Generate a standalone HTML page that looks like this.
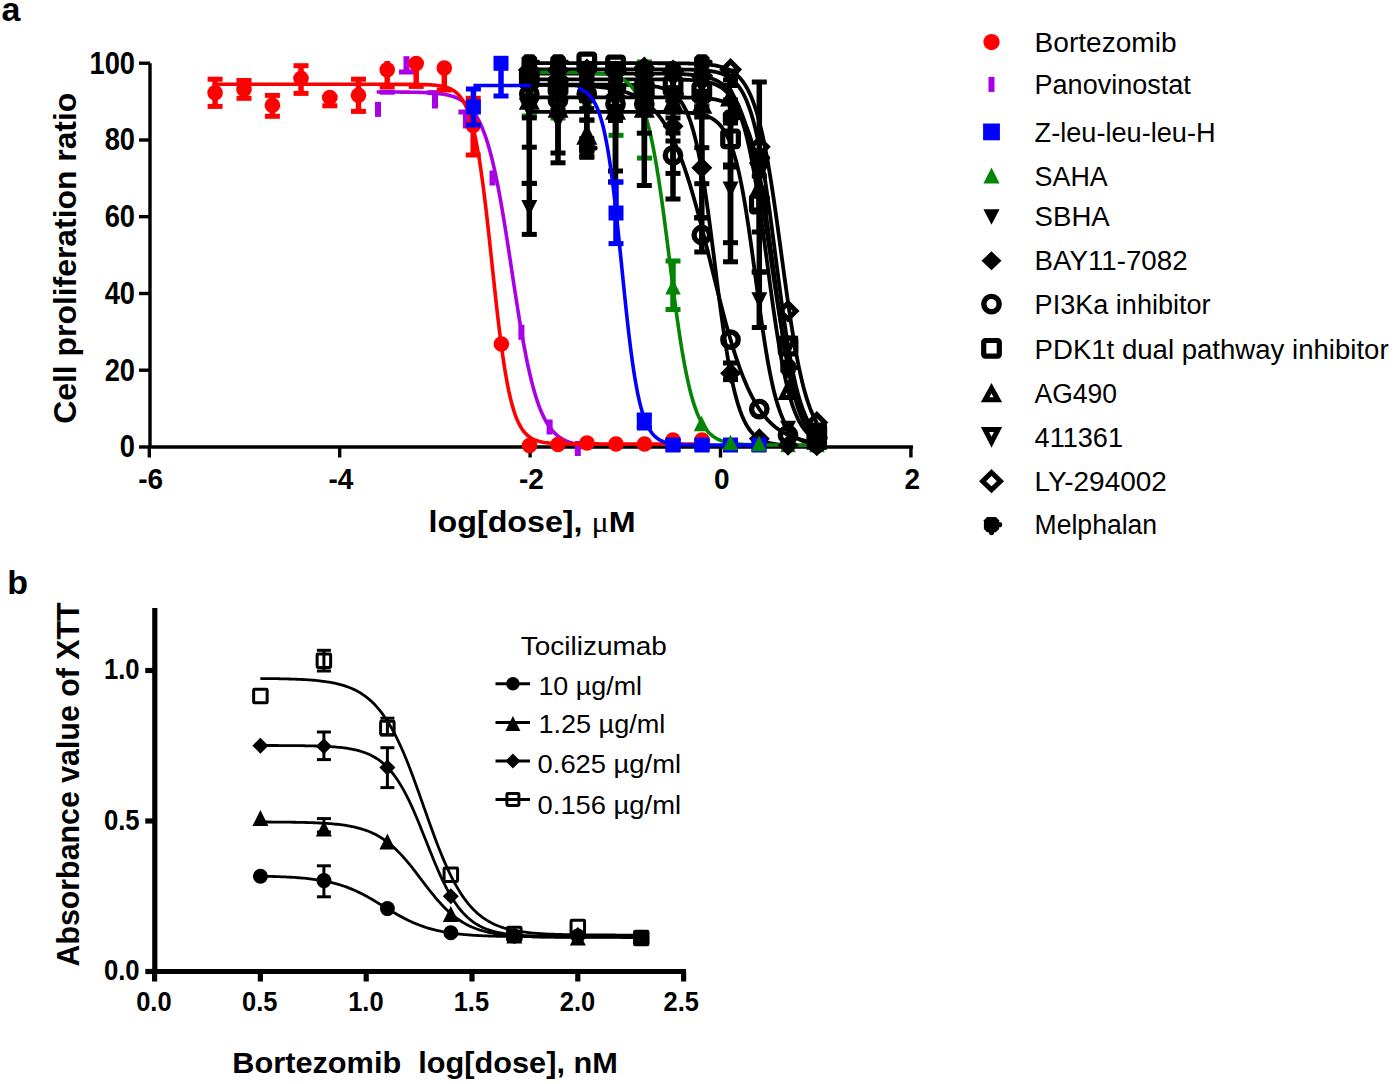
<!DOCTYPE html>
<html><head><meta charset="utf-8"><style>html,body{margin:0;padding:0;background:#fff;overflow:hidden;}svg{display:block;}</style></head><body>
<svg width="1395" height="1084" viewBox="0 0 1395 1084" font-family='"Liberation Sans", sans-serif'>
<rect width="1395" height="1084" fill="#fff"/>
<text x="1.6" y="21.3" font-size="34" font-weight="bold" text-anchor="start" fill="#000" >a</text>
<text x="7.2" y="593.8" font-size="34" font-weight="bold" text-anchor="start" fill="#000" >b</text>
<g stroke="#000" stroke-width="3.4" fill="none" stroke-linecap="butt">
<path d="M150,63.2 V447 H913"/>
<path d="M139,447.0 H150"/>
<path d="M139,370.2 H150"/>
<path d="M139,293.5 H150"/>
<path d="M139,216.7 H150"/>
<path d="M139,140.0 H150"/>
<path d="M139,63.2 H150"/>
<path d="M149.3,447 V457.5"/>
<path d="M339.7,447 V457.5"/>
<path d="M530.1,447 V457.5"/>
<path d="M720.5,447 V457.5"/>
<path d="M910.9,447 V457.5"/>
</g>
<text transform="translate(135.00,457.30) scale(0.975,1.1)" font-size="28" font-weight="bold" text-anchor="end">0</text>
<text transform="translate(135.00,380.54) scale(0.975,1.1)" font-size="28" font-weight="bold" text-anchor="end">20</text>
<text transform="translate(135.00,303.78) scale(0.975,1.1)" font-size="28" font-weight="bold" text-anchor="end">40</text>
<text transform="translate(135.00,227.02) scale(0.975,1.1)" font-size="28" font-weight="bold" text-anchor="end">60</text>
<text transform="translate(135.00,150.26) scale(0.975,1.1)" font-size="28" font-weight="bold" text-anchor="end">80</text>
<text transform="translate(135.00,73.50) scale(0.975,1.1)" font-size="28" font-weight="bold" text-anchor="end">100</text>
<text transform="translate(150.60,489.20) scale(1.0,1.08)" font-size="28" font-weight="bold" text-anchor="middle">-6</text>
<text transform="translate(341.00,489.20) scale(1.0,1.08)" font-size="28" font-weight="bold" text-anchor="middle">-4</text>
<text transform="translate(531.40,489.20) scale(1.0,1.08)" font-size="28" font-weight="bold" text-anchor="middle">-2</text>
<text transform="translate(721.80,489.20) scale(1.0,1.08)" font-size="28" font-weight="bold" text-anchor="middle">0</text>
<text transform="translate(912.20,489.20) scale(1.0,1.08)" font-size="28" font-weight="bold" text-anchor="middle">2</text>
<text transform="translate(76.2,258.2) rotate(-90)" font-size="31.5" font-weight="bold" text-anchor="middle" textLength="331" lengthAdjust="spacingAndGlyphs">Cell proliferation ratio</text>
<text x="428.6" y="531.5" font-size="30" font-weight="bold" textLength="207" lengthAdjust="spacingAndGlyphs">log[dose], <tspan font-family="Liberation Serif" font-weight="normal">&#956;</tspan>M</text>
<line x1="529.3" y1="95.0" x2="529.3" y2="116.0" stroke="#058505" stroke-width="5.5"/>
<rect x="521.8" y="92.5" width="15" height="5" fill="#058505"/>
<rect x="521.8" y="113.5" width="15" height="5" fill="#058505"/>
<line x1="558.0" y1="95.0" x2="558.0" y2="118.0" stroke="#058505" stroke-width="5.5"/>
<rect x="550.5" y="92.5" width="15" height="5" fill="#058505"/>
<rect x="550.5" y="115.5" width="15" height="5" fill="#058505"/>
<line x1="587.0" y1="95.0" x2="587.0" y2="120.3" stroke="#058505" stroke-width="5.5"/>
<rect x="579.5" y="92.5" width="15" height="5" fill="#058505"/>
<rect x="579.5" y="117.8" width="15" height="5" fill="#058505"/>
<line x1="616.0" y1="95.0" x2="616.0" y2="135.3" stroke="#058505" stroke-width="5.5"/>
<rect x="608.5" y="92.5" width="15" height="5" fill="#058505"/>
<rect x="608.5" y="132.8" width="15" height="5" fill="#058505"/>
<line x1="644.5" y1="62.0" x2="644.5" y2="158.1" stroke="#058505" stroke-width="5.5"/>
<rect x="637.0" y="59.5" width="15" height="5" fill="#058505"/>
<rect x="637.0" y="155.6" width="15" height="5" fill="#058505"/>
<line x1="673.0" y1="261.0" x2="673.0" y2="309.5" stroke="#058505" stroke-width="5.5"/>
<rect x="665.5" y="258.5" width="15" height="5" fill="#058505"/>
<rect x="665.5" y="307.0" width="15" height="5" fill="#058505"/>
<path d="M529.30,91.78 L537.05,107.28 L521.55,107.28Z" fill="#058505"/>
<path d="M558.00,93.78 L565.75,109.28 L550.25,109.28Z" fill="#058505"/>
<path d="M587.00,95.78 L594.75,111.28 L579.25,111.28Z" fill="#058505"/>
<path d="M616.00,99.78 L623.75,115.28 L608.25,115.28Z" fill="#058505"/>
<path d="M644.50,101.78 L652.25,117.28 L636.75,117.28Z" fill="#058505"/>
<path d="M673.00,279.09 L680.75,294.59 L665.25,294.59Z" fill="#058505"/>
<path d="M701.50,415.79 L709.25,431.29 L693.75,431.29Z" fill="#058505"/>
<path d="M788.00,436.79 L795.75,452.29 L780.25,452.29Z" fill="#058505"/>
<path d="M817.00,436.79 L824.75,452.29 L809.25,452.29Z" fill="#058505"/>
<path d="M529.00,63.20 L529.96,63.20 L530.92,63.20 L531.88,63.20 L532.84,63.20 L533.80,63.20 L534.76,63.20 L535.72,63.20 L536.68,63.20 L537.64,63.20 L538.60,63.20 L539.56,63.20 L540.52,63.20 L541.48,63.20 L542.44,63.20 L543.40,63.20 L544.36,63.20 L545.32,63.20 L546.28,63.20 L547.24,63.20 L548.20,63.20 L549.16,63.20 L550.12,63.20 L551.08,63.20 L552.04,63.20 L553.00,63.20 L553.96,63.20 L554.92,63.20 L555.88,63.20 L556.84,63.20 L557.80,63.20 L558.76,63.20 L559.72,63.20 L560.68,63.20 L561.64,63.20 L562.60,63.20 L563.56,63.20 L564.52,63.20 L565.48,63.20 L566.44,63.20 L567.40,63.20 L568.36,63.20 L569.32,63.20 L570.28,63.20 L571.24,63.20 L572.20,63.20 L573.16,63.20 L574.12,63.20 L575.08,63.20 L576.04,63.20 L577.00,63.20 L577.96,63.20 L578.92,63.20 L579.88,63.20 L580.84,63.20 L581.80,63.20 L582.76,63.20 L583.72,63.20 L584.68,63.20 L585.64,63.20 L586.60,63.20 L587.56,63.20 L588.52,63.20 L589.48,63.20 L590.44,63.20 L591.40,63.20 L592.36,63.20 L593.32,63.20 L594.28,63.20 L595.24,63.20 L596.20,63.20 L597.16,63.20 L598.12,63.20 L599.08,63.20 L600.04,63.20 L601.00,63.20 L601.96,63.20 L602.92,63.20 L603.88,63.20 L604.84,63.20 L605.80,63.20 L606.76,63.20 L607.72,63.20 L608.68,63.20 L609.64,63.20 L610.60,63.20 L611.56,63.20 L612.52,63.20 L613.48,63.20 L614.44,63.20 L615.40,63.20 L616.36,63.20 L617.32,63.20 L618.28,63.20 L619.24,63.20 L620.20,63.20 L621.16,63.20 L622.12,63.20 L623.08,63.20 L624.04,63.20 L625.00,63.20 L625.96,63.20 L626.92,63.20 L627.88,63.20 L628.84,63.20 L629.80,63.20 L630.76,63.20 L631.72,63.20 L632.68,63.20 L633.64,63.20 L634.60,63.20 L635.56,63.20 L636.52,63.21 L637.48,63.21 L638.44,63.21 L639.40,63.21 L640.36,63.21 L641.32,63.21 L642.28,63.21 L643.24,63.21 L644.20,63.21 L645.16,63.21 L646.12,63.21 L647.08,63.21 L648.04,63.21 L649.00,63.21 L649.96,63.21 L650.92,63.22 L651.88,63.22 L652.84,63.22 L653.80,63.22 L654.76,63.22 L655.72,63.22 L656.68,63.22 L657.64,63.23 L658.60,63.23 L659.56,63.23 L660.52,63.23 L661.48,63.24 L662.44,63.24 L663.40,63.24 L664.36,63.24 L665.32,63.25 L666.28,63.25 L667.24,63.26 L668.20,63.26 L669.16,63.26 L670.12,63.27 L671.08,63.27 L672.04,63.28 L673.00,63.29 L673.96,63.29 L674.92,63.30 L675.88,63.31 L676.84,63.32 L677.80,63.33 L678.76,63.34 L679.72,63.35 L680.68,63.36 L681.64,63.37 L682.60,63.38 L683.56,63.40 L684.52,63.41 L685.48,63.43 L686.44,63.45 L687.40,63.46 L688.36,63.48 L689.32,63.51 L690.28,63.53 L691.24,63.56 L692.20,63.58 L693.16,63.61 L694.12,63.64 L695.08,63.68 L696.04,63.72 L697.00,63.75 L697.96,63.80 L698.92,63.84 L699.88,63.89 L700.84,63.95 L701.80,64.00 L702.76,64.07 L703.72,64.13 L704.68,64.20 L705.64,64.28 L706.60,64.36 L707.56,64.45 L708.52,64.55 L709.48,64.65 L710.44,64.77 L711.40,64.89 L712.36,65.02 L713.32,65.16 L714.28,65.31 L715.24,65.47 L716.20,65.64 L717.16,65.83 L718.12,66.03 L719.08,66.25 L720.04,66.48 L721.00,66.73 L721.96,67.00 L722.92,67.29 L723.88,67.60 L724.84,67.93 L725.80,68.29 L726.76,68.68 L727.72,69.10 L728.68,69.55 L729.64,70.03 L730.60,70.54 L731.56,71.10 L732.52,71.69 L733.48,72.33 L734.44,73.02 L735.40,73.76 L736.36,74.55 L737.32,75.39 L738.28,76.30 L739.24,77.27 L740.20,78.32 L741.16,79.43 L742.12,80.63 L743.08,81.91 L744.04,83.28 L745.00,84.74 L745.96,86.30 L746.92,87.96 L747.88,89.74 L748.84,91.64 L749.80,93.65 L750.76,95.80 L751.72,98.09 L752.68,100.52 L753.64,103.10 L754.60,105.83 L755.56,108.73 L756.52,111.79 L757.48,115.03 L758.44,118.45 L759.40,122.06 L760.36,125.86 L761.32,129.85 L762.28,134.04 L763.24,138.43 L764.20,143.02 L765.16,147.81 L766.12,152.81 L767.08,158.01 L768.04,163.41 L769.00,169.00 L769.96,174.78 L770.92,180.75 L771.88,186.88 L772.84,193.18 L773.80,199.63 L774.76,206.22 L775.72,212.94 L776.68,219.76 L777.64,226.68 L778.60,233.67 L779.56,240.72 L780.52,247.80 L781.48,254.91 L782.44,262.01 L783.40,269.10 L784.36,276.14 L785.32,283.12 L786.28,290.03 L787.24,296.85 L788.20,303.55 L789.16,310.12 L790.12,316.56 L791.08,322.84 L792.04,328.96 L793.00,334.90 L793.96,340.66 L794.92,346.23 L795.88,351.61 L796.84,356.79 L797.80,361.76 L798.76,366.54 L799.72,371.11 L800.68,375.47 L801.64,379.64 L802.60,383.61 L803.56,387.39 L804.52,390.97 L805.48,394.37 L806.44,397.60 L807.40,400.64 L808.36,403.52 L809.32,406.24 L810.28,408.80 L811.24,411.21 L812.20,413.48 L813.16,415.62 L814.12,417.62 L815.08,419.51 L816.04,421.27 L817.00,422.93" fill="none" stroke="#000" stroke-width="3.8" stroke-linejoin="round"/>
<path d="M529.00,69.34 L529.96,69.34 L530.92,69.34 L531.88,69.34 L532.84,69.34 L533.80,69.34 L534.76,69.34 L535.72,69.34 L536.68,69.34 L537.64,69.34 L538.60,69.34 L539.56,69.34 L540.52,69.34 L541.48,69.34 L542.44,69.34 L543.40,69.34 L544.36,69.34 L545.32,69.34 L546.28,69.34 L547.24,69.34 L548.20,69.34 L549.16,69.34 L550.12,69.34 L551.08,69.34 L552.04,69.34 L553.00,69.34 L553.96,69.34 L554.92,69.34 L555.88,69.34 L556.84,69.34 L557.80,69.34 L558.76,69.34 L559.72,69.34 L560.68,69.34 L561.64,69.34 L562.60,69.34 L563.56,69.34 L564.52,69.34 L565.48,69.34 L566.44,69.34 L567.40,69.34 L568.36,69.34 L569.32,69.34 L570.28,69.34 L571.24,69.34 L572.20,69.34 L573.16,69.34 L574.12,69.34 L575.08,69.34 L576.04,69.34 L577.00,69.34 L577.96,69.34 L578.92,69.34 L579.88,69.34 L580.84,69.34 L581.80,69.34 L582.76,69.34 L583.72,69.34 L584.68,69.34 L585.64,69.34 L586.60,69.34 L587.56,69.34 L588.52,69.34 L589.48,69.34 L590.44,69.34 L591.40,69.34 L592.36,69.34 L593.32,69.34 L594.28,69.34 L595.24,69.34 L596.20,69.34 L597.16,69.34 L598.12,69.34 L599.08,69.34 L600.04,69.34 L601.00,69.34 L601.96,69.34 L602.92,69.34 L603.88,69.34 L604.84,69.34 L605.80,69.34 L606.76,69.34 L607.72,69.34 L608.68,69.34 L609.64,69.34 L610.60,69.34 L611.56,69.34 L612.52,69.34 L613.48,69.34 L614.44,69.34 L615.40,69.34 L616.36,69.34 L617.32,69.34 L618.28,69.34 L619.24,69.34 L620.20,69.34 L621.16,69.34 L622.12,69.34 L623.08,69.34 L624.04,69.34 L625.00,69.34 L625.96,69.34 L626.92,69.34 L627.88,69.34 L628.84,69.34 L629.80,69.34 L630.76,69.34 L631.72,69.34 L632.68,69.34 L633.64,69.34 L634.60,69.34 L635.56,69.34 L636.52,69.34 L637.48,69.35 L638.44,69.35 L639.40,69.35 L640.36,69.35 L641.32,69.35 L642.28,69.35 L643.24,69.35 L644.20,69.35 L645.16,69.35 L646.12,69.35 L647.08,69.35 L648.04,69.35 L649.00,69.35 L649.96,69.35 L650.92,69.35 L651.88,69.36 L652.84,69.36 L653.80,69.36 L654.76,69.36 L655.72,69.36 L656.68,69.36 L657.64,69.36 L658.60,69.37 L659.56,69.37 L660.52,69.37 L661.48,69.37 L662.44,69.37 L663.40,69.38 L664.36,69.38 L665.32,69.38 L666.28,69.39 L667.24,69.39 L668.20,69.40 L669.16,69.40 L670.12,69.40 L671.08,69.41 L672.04,69.42 L673.00,69.42 L673.96,69.43 L674.92,69.44 L675.88,69.44 L676.84,69.45 L677.80,69.46 L678.76,69.47 L679.72,69.48 L680.68,69.49 L681.64,69.51 L682.60,69.52 L683.56,69.53 L684.52,69.55 L685.48,69.57 L686.44,69.58 L687.40,69.60 L688.36,69.63 L689.32,69.65 L690.28,69.68 L691.24,69.70 L692.20,69.73 L693.16,69.76 L694.12,69.80 L695.08,69.84 L696.04,69.88 L697.00,69.92 L697.96,69.97 L698.92,70.02 L699.88,70.08 L700.84,70.14 L701.80,70.20 L702.76,70.27 L703.72,70.35 L704.68,70.43 L705.64,70.52 L706.60,70.62 L707.56,70.72 L708.52,70.83 L709.48,70.96 L710.44,71.09 L711.40,71.23 L712.36,71.39 L713.32,71.55 L714.28,71.73 L715.24,71.93 L716.20,72.14 L717.16,72.37 L718.12,72.61 L719.08,72.88 L720.04,73.17 L721.00,73.48 L721.96,73.82 L722.92,74.18 L723.88,74.57 L724.84,74.99 L725.80,75.45 L726.76,75.94 L727.72,76.47 L728.68,77.05 L729.64,77.67 L730.60,78.34 L731.56,79.06 L732.52,79.83 L733.48,80.67 L734.44,81.57 L735.40,82.54 L736.36,83.58 L737.32,84.70 L738.28,85.91 L739.24,87.20 L740.20,88.60 L741.16,90.09 L742.12,91.69 L743.08,93.41 L744.04,95.25 L745.00,97.22 L745.96,99.33 L746.92,101.59 L747.88,103.99 L748.84,106.56 L749.80,109.29 L750.76,112.20 L751.72,115.29 L752.68,118.57 L753.64,122.05 L754.60,125.73 L755.56,129.62 L756.52,133.72 L757.48,138.05 L758.44,142.59 L759.40,147.36 L760.36,152.36 L761.32,157.58 L762.28,163.02 L763.24,168.69 L764.20,174.57 L765.16,180.66 L766.12,186.95 L767.08,193.42 L768.04,200.08 L769.00,206.89 L769.96,213.85 L770.92,220.94 L771.88,228.15 L772.84,235.44 L773.80,242.79 L774.76,250.20 L775.72,257.63 L776.68,265.05 L777.64,272.46 L778.60,279.81 L779.56,287.10 L780.52,294.30 L781.48,301.39 L782.44,308.36 L783.40,315.17 L784.36,321.82 L785.32,328.30 L786.28,334.58 L787.24,340.67 L788.20,346.55 L789.16,352.21 L790.12,357.65 L791.08,362.87 L792.04,367.87 L793.00,372.64 L793.96,377.18 L794.92,381.50 L795.88,385.61 L796.84,389.49 L797.80,393.17 L798.76,396.65 L799.72,399.93 L800.68,403.02 L801.64,405.92 L802.60,408.66 L803.56,411.22 L804.52,413.62 L805.48,415.87 L806.44,417.98 L807.40,419.95 L808.36,421.79 L809.32,423.51 L810.28,425.11 L811.24,426.61 L812.20,428.00 L813.16,429.29 L814.12,430.50 L815.08,431.62 L816.04,432.66 L817.00,433.63" fill="none" stroke="#000" stroke-width="3.8" stroke-linejoin="round"/>
<path d="M529.00,73.56 L529.96,73.56 L530.92,73.56 L531.88,73.56 L532.84,73.56 L533.80,73.56 L534.76,73.56 L535.72,73.56 L536.68,73.56 L537.64,73.56 L538.60,73.56 L539.56,73.56 L540.52,73.56 L541.48,73.56 L542.44,73.56 L543.40,73.56 L544.36,73.56 L545.32,73.56 L546.28,73.56 L547.24,73.56 L548.20,73.56 L549.16,73.56 L550.12,73.56 L551.08,73.56 L552.04,73.56 L553.00,73.56 L553.96,73.56 L554.92,73.56 L555.88,73.56 L556.84,73.56 L557.80,73.56 L558.76,73.56 L559.72,73.56 L560.68,73.56 L561.64,73.56 L562.60,73.56 L563.56,73.56 L564.52,73.56 L565.48,73.56 L566.44,73.56 L567.40,73.56 L568.36,73.56 L569.32,73.56 L570.28,73.56 L571.24,73.56 L572.20,73.56 L573.16,73.56 L574.12,73.56 L575.08,73.56 L576.04,73.56 L577.00,73.56 L577.96,73.56 L578.92,73.56 L579.88,73.56 L580.84,73.56 L581.80,73.56 L582.76,73.56 L583.72,73.56 L584.68,73.56 L585.64,73.56 L586.60,73.56 L587.56,73.56 L588.52,73.56 L589.48,73.56 L590.44,73.56 L591.40,73.56 L592.36,73.56 L593.32,73.56 L594.28,73.56 L595.24,73.56 L596.20,73.56 L597.16,73.56 L598.12,73.56 L599.08,73.56 L600.04,73.56 L601.00,73.56 L601.96,73.56 L602.92,73.56 L603.88,73.56 L604.84,73.56 L605.80,73.56 L606.76,73.57 L607.72,73.57 L608.68,73.57 L609.64,73.57 L610.60,73.57 L611.56,73.57 L612.52,73.57 L613.48,73.57 L614.44,73.57 L615.40,73.57 L616.36,73.57 L617.32,73.57 L618.28,73.57 L619.24,73.57 L620.20,73.57 L621.16,73.57 L622.12,73.57 L623.08,73.57 L624.04,73.57 L625.00,73.57 L625.96,73.57 L626.92,73.57 L627.88,73.57 L628.84,73.57 L629.80,73.58 L630.76,73.58 L631.72,73.58 L632.68,73.58 L633.64,73.58 L634.60,73.58 L635.56,73.58 L636.52,73.58 L637.48,73.59 L638.44,73.59 L639.40,73.59 L640.36,73.59 L641.32,73.59 L642.28,73.60 L643.24,73.60 L644.20,73.60 L645.16,73.60 L646.12,73.61 L647.08,73.61 L648.04,73.61 L649.00,73.62 L649.96,73.62 L650.92,73.62 L651.88,73.63 L652.84,73.63 L653.80,73.64 L654.76,73.64 L655.72,73.65 L656.68,73.66 L657.64,73.66 L658.60,73.67 L659.56,73.68 L660.52,73.69 L661.48,73.69 L662.44,73.70 L663.40,73.71 L664.36,73.73 L665.32,73.74 L666.28,73.75 L667.24,73.76 L668.20,73.78 L669.16,73.79 L670.12,73.81 L671.08,73.83 L672.04,73.85 L673.00,73.87 L673.96,73.89 L674.92,73.91 L675.88,73.94 L676.84,73.96 L677.80,73.99 L678.76,74.02 L679.72,74.06 L680.68,74.09 L681.64,74.13 L682.60,74.17 L683.56,74.22 L684.52,74.26 L685.48,74.31 L686.44,74.37 L687.40,74.43 L688.36,74.49 L689.32,74.56 L690.28,74.63 L691.24,74.70 L692.20,74.79 L693.16,74.87 L694.12,74.97 L695.08,75.07 L696.04,75.18 L697.00,75.29 L697.96,75.42 L698.92,75.55 L699.88,75.69 L700.84,75.85 L701.80,76.01 L702.76,76.19 L703.72,76.37 L704.68,76.57 L705.64,76.79 L706.60,77.02 L707.56,77.27 L708.52,77.53 L709.48,77.81 L710.44,78.12 L711.40,78.44 L712.36,78.79 L713.32,79.16 L714.28,79.56 L715.24,79.98 L716.20,80.44 L717.16,80.92 L718.12,81.44 L719.08,82.00 L720.04,82.59 L721.00,83.23 L721.96,83.91 L722.92,84.63 L723.88,85.40 L724.84,86.23 L725.80,87.11 L726.76,88.05 L727.72,89.05 L728.68,90.12 L729.64,91.25 L730.60,92.47 L731.56,93.75 L732.52,95.13 L733.48,96.59 L734.44,98.14 L735.40,99.79 L736.36,101.54 L737.32,103.39 L738.28,105.36 L739.24,107.45 L740.20,109.65 L741.16,111.99 L742.12,114.46 L743.08,117.06 L744.04,119.81 L745.00,122.70 L745.96,125.75 L746.92,128.96 L747.88,132.32 L748.84,135.85 L749.80,139.55 L750.76,143.42 L751.72,147.46 L752.68,151.67 L753.64,156.06 L754.60,160.61 L755.56,165.35 L756.52,170.25 L757.48,175.32 L758.44,180.55 L759.40,185.94 L760.36,191.48 L761.32,197.16 L762.28,202.98 L763.24,208.92 L764.20,214.97 L765.16,221.13 L766.12,227.38 L767.08,233.70 L768.04,240.09 L769.00,246.52 L769.96,252.98 L770.92,259.46 L771.88,265.94 L772.84,272.41 L773.80,278.84 L774.76,285.23 L775.72,291.56 L776.68,297.82 L777.64,303.98 L778.60,310.04 L779.56,315.99 L780.52,321.82 L781.48,327.51 L782.44,333.06 L783.40,338.46 L784.36,343.71 L785.32,348.79 L786.28,353.70 L787.24,358.45 L788.20,363.02 L789.16,367.42 L790.12,371.64 L791.08,375.70 L792.04,379.58 L793.00,383.29 L793.96,386.83 L794.92,390.21 L795.88,393.42 L796.84,396.48 L797.80,399.39 L798.76,402.15 L799.72,404.77 L800.68,407.24 L801.64,409.59 L802.60,411.80 L803.56,413.90 L804.52,415.88 L805.48,417.74 L806.44,419.50 L807.40,421.15 L808.36,422.71 L809.32,424.18 L810.28,425.56 L811.24,426.85 L812.20,428.07 L813.16,429.21 L814.12,430.28 L815.08,431.29 L816.04,432.23 L817.00,433.12" fill="none" stroke="#000" stroke-width="3.8" stroke-linejoin="round"/>
<path d="M529.00,97.36 L529.96,97.36 L530.92,97.36 L531.88,97.36 L532.84,97.36 L533.80,97.36 L534.76,97.36 L535.72,97.36 L536.68,97.36 L537.64,97.36 L538.60,97.36 L539.56,97.36 L540.52,97.36 L541.48,97.36 L542.44,97.36 L543.40,97.36 L544.36,97.36 L545.32,97.36 L546.28,97.36 L547.24,97.36 L548.20,97.36 L549.16,97.36 L550.12,97.36 L551.08,97.36 L552.04,97.36 L553.00,97.36 L553.96,97.36 L554.92,97.36 L555.88,97.36 L556.84,97.36 L557.80,97.36 L558.76,97.36 L559.72,97.36 L560.68,97.36 L561.64,97.36 L562.60,97.36 L563.56,97.36 L564.52,97.36 L565.48,97.36 L566.44,97.36 L567.40,97.36 L568.36,97.36 L569.32,97.36 L570.28,97.36 L571.24,97.36 L572.20,97.36 L573.16,97.36 L574.12,97.36 L575.08,97.36 L576.04,97.36 L577.00,97.36 L577.96,97.36 L578.92,97.36 L579.88,97.36 L580.84,97.36 L581.80,97.36 L582.76,97.36 L583.72,97.36 L584.68,97.36 L585.64,97.36 L586.60,97.36 L587.56,97.36 L588.52,97.36 L589.48,97.36 L590.44,97.36 L591.40,97.36 L592.36,97.36 L593.32,97.36 L594.28,97.36 L595.24,97.36 L596.20,97.36 L597.16,97.36 L598.12,97.36 L599.08,97.36 L600.04,97.36 L601.00,97.36 L601.96,97.36 L602.92,97.36 L603.88,97.36 L604.84,97.36 L605.80,97.36 L606.76,97.36 L607.72,97.36 L608.68,97.36 L609.64,97.36 L610.60,97.36 L611.56,97.36 L612.52,97.36 L613.48,97.36 L614.44,97.36 L615.40,97.36 L616.36,97.36 L617.32,97.36 L618.28,97.36 L619.24,97.36 L620.20,97.36 L621.16,97.36 L622.12,97.36 L623.08,97.36 L624.04,97.36 L625.00,97.36 L625.96,97.36 L626.92,97.36 L627.88,97.36 L628.84,97.36 L629.80,97.36 L630.76,97.36 L631.72,97.36 L632.68,97.36 L633.64,97.36 L634.60,97.36 L635.56,97.36 L636.52,97.36 L637.48,97.36 L638.44,97.36 L639.40,97.36 L640.36,97.36 L641.32,97.36 L642.28,97.36 L643.24,97.36 L644.20,97.36 L645.16,97.36 L646.12,97.36 L647.08,97.36 L648.04,97.36 L649.00,97.36 L649.96,97.37 L650.92,97.37 L651.88,97.37 L652.84,97.37 L653.80,97.37 L654.76,97.37 L655.72,97.37 L656.68,97.37 L657.64,97.37 L658.60,97.37 L659.56,97.37 L660.52,97.38 L661.48,97.38 L662.44,97.38 L663.40,97.38 L664.36,97.38 L665.32,97.39 L666.28,97.39 L667.24,97.39 L668.20,97.39 L669.16,97.40 L670.12,97.40 L671.08,97.40 L672.04,97.41 L673.00,97.41 L673.96,97.42 L674.92,97.42 L675.88,97.43 L676.84,97.43 L677.80,97.44 L678.76,97.45 L679.72,97.45 L680.68,97.46 L681.64,97.47 L682.60,97.48 L683.56,97.49 L684.52,97.50 L685.48,97.52 L686.44,97.53 L687.40,97.55 L688.36,97.56 L689.32,97.58 L690.28,97.60 L691.24,97.62 L692.20,97.64 L693.16,97.67 L694.12,97.70 L695.08,97.73 L696.04,97.76 L697.00,97.79 L697.96,97.83 L698.92,97.87 L699.88,97.92 L700.84,97.96 L701.80,98.02 L702.76,98.07 L703.72,98.14 L704.68,98.20 L705.64,98.28 L706.60,98.36 L707.56,98.44 L708.52,98.54 L709.48,98.64 L710.44,98.75 L711.40,98.87 L712.36,99.00 L713.32,99.15 L714.28,99.30 L715.24,99.47 L716.20,99.65 L717.16,99.85 L718.12,100.07 L719.08,100.30 L720.04,100.56 L721.00,100.83 L721.96,101.13 L722.92,101.46 L723.88,101.81 L724.84,102.19 L725.80,102.61 L726.76,103.06 L727.72,103.54 L728.68,104.07 L729.64,104.65 L730.60,105.27 L731.56,105.94 L732.52,106.67 L733.48,107.46 L734.44,108.31 L735.40,109.23 L736.36,110.23 L737.32,111.31 L738.28,112.47 L739.24,113.72 L740.20,115.08 L741.16,116.54 L742.12,118.11 L743.08,119.80 L744.04,121.63 L745.00,123.58 L745.96,125.68 L746.92,127.93 L747.88,130.35 L748.84,132.93 L749.80,135.69 L750.76,138.64 L751.72,141.78 L752.68,145.12 L753.64,148.67 L754.60,152.44 L755.56,156.42 L756.52,160.64 L757.48,165.08 L758.44,169.76 L759.40,174.67 L760.36,179.82 L761.32,185.20 L762.28,190.80 L763.24,196.63 L764.20,202.66 L765.16,208.91 L766.12,215.34 L767.08,221.95 L768.04,228.72 L769.00,235.62 L769.96,242.65 L770.92,249.78 L771.88,256.98 L772.84,264.23 L773.80,271.51 L774.76,278.79 L775.72,286.04 L776.68,293.25 L777.64,300.38 L778.60,307.41 L779.56,314.32 L780.52,321.09 L781.48,327.70 L782.44,334.14 L783.40,340.39 L784.36,346.43 L785.32,352.26 L786.28,357.87 L787.24,363.26 L788.20,368.41 L789.16,373.33 L790.12,378.01 L791.08,382.46 L792.04,386.68 L793.00,390.67 L793.96,394.45 L794.92,398.00 L795.88,401.35 L796.84,404.49 L797.80,407.44 L798.76,410.21 L799.72,412.80 L800.68,415.21 L801.64,417.47 L802.60,419.57 L803.56,421.53 L804.52,423.36 L805.48,425.05 L806.44,426.63 L807.40,428.09 L808.36,429.45 L809.32,430.71 L810.28,431.87 L811.24,432.95 L812.20,433.95 L813.16,434.88 L814.12,435.73 L815.08,436.52 L816.04,437.25 L817.00,437.92" fill="none" stroke="#000" stroke-width="3.8" stroke-linejoin="round"/>
<path d="M529.00,84.69 L529.96,84.69 L530.92,84.69 L531.88,84.69 L532.84,84.69 L533.80,84.69 L534.76,84.69 L535.72,84.69 L536.68,84.69 L537.64,84.69 L538.60,84.69 L539.56,84.69 L540.52,84.69 L541.48,84.69 L542.44,84.69 L543.40,84.69 L544.36,84.69 L545.32,84.69 L546.28,84.69 L547.24,84.69 L548.20,84.69 L549.16,84.69 L550.12,84.69 L551.08,84.69 L552.04,84.69 L553.00,84.69 L553.96,84.69 L554.92,84.69 L555.88,84.69 L556.84,84.69 L557.80,84.69 L558.76,84.69 L559.72,84.69 L560.68,84.69 L561.64,84.69 L562.60,84.69 L563.56,84.69 L564.52,84.69 L565.48,84.69 L566.44,84.69 L567.40,84.69 L568.36,84.69 L569.32,84.69 L570.28,84.69 L571.24,84.69 L572.20,84.69 L573.16,84.69 L574.12,84.69 L575.08,84.69 L576.04,84.69 L577.00,84.69 L577.96,84.69 L578.92,84.69 L579.88,84.70 L580.84,84.70 L581.80,84.70 L582.76,84.70 L583.72,84.70 L584.68,84.70 L585.64,84.70 L586.60,84.70 L587.56,84.70 L588.52,84.70 L589.48,84.70 L590.44,84.70 L591.40,84.70 L592.36,84.70 L593.32,84.70 L594.28,84.70 L595.24,84.70 L596.20,84.70 L597.16,84.70 L598.12,84.70 L599.08,84.71 L600.04,84.71 L601.00,84.71 L601.96,84.71 L602.92,84.71 L603.88,84.71 L604.84,84.71 L605.80,84.72 L606.76,84.72 L607.72,84.72 L608.68,84.72 L609.64,84.73 L610.60,84.73 L611.56,84.73 L612.52,84.73 L613.48,84.74 L614.44,84.74 L615.40,84.75 L616.36,84.75 L617.32,84.76 L618.28,84.76 L619.24,84.77 L620.20,84.77 L621.16,84.78 L622.12,84.79 L623.08,84.80 L624.04,84.81 L625.00,84.82 L625.96,84.83 L626.92,84.84 L627.88,84.85 L628.84,84.87 L629.80,84.88 L630.76,84.90 L631.72,84.92 L632.68,84.94 L633.64,84.96 L634.60,84.99 L635.56,85.01 L636.52,85.04 L637.48,85.07 L638.44,85.10 L639.40,85.14 L640.36,85.18 L641.32,85.22 L642.28,85.27 L643.24,85.32 L644.20,85.38 L645.16,85.44 L646.12,85.50 L647.08,85.58 L648.04,85.65 L649.00,85.74 L649.96,85.83 L650.92,85.93 L651.88,86.04 L652.84,86.16 L653.80,86.29 L654.76,86.43 L655.72,86.59 L656.68,86.75 L657.64,86.93 L658.60,87.13 L659.56,87.35 L660.52,87.58 L661.48,87.83 L662.44,88.11 L663.40,88.41 L664.36,88.74 L665.32,89.09 L666.28,89.48 L667.24,89.89 L668.20,90.35 L669.16,90.84 L670.12,91.38 L671.08,91.96 L672.04,92.59 L673.00,93.27 L673.96,94.01 L674.92,94.82 L675.88,95.69 L676.84,96.63 L677.80,97.65 L678.76,98.75 L679.72,99.95 L680.68,101.24 L681.64,102.63 L682.60,104.14 L683.56,105.76 L684.52,107.52 L685.48,109.40 L686.44,111.43 L687.40,113.61 L688.36,115.95 L689.32,118.47 L690.28,121.16 L691.24,124.04 L692.20,127.12 L693.16,130.41 L694.12,133.91 L695.08,137.64 L696.04,141.60 L697.00,145.79 L697.96,150.23 L698.92,154.91 L699.88,159.84 L700.84,165.02 L701.80,170.46 L702.76,176.14 L703.72,182.06 L704.68,188.22 L705.64,194.61 L706.60,201.21 L707.56,208.02 L708.52,215.01 L709.48,222.17 L710.44,229.48 L711.40,236.91 L712.36,244.44 L713.32,252.04 L714.28,259.69 L715.24,267.36 L716.20,275.03 L717.16,282.65 L718.12,290.22 L719.08,297.70 L720.04,305.06 L721.00,312.29 L721.96,319.36 L722.92,326.25 L723.88,332.95 L724.84,339.44 L725.80,345.71 L726.76,351.74 L727.72,357.53 L728.68,363.08 L729.64,368.37 L730.60,373.42 L731.56,378.22 L732.52,382.76 L733.48,387.07 L734.44,391.13 L735.40,394.96 L736.36,398.56 L737.32,401.95 L738.28,405.12 L739.24,408.09 L740.20,410.87 L741.16,413.46 L742.12,415.88 L743.08,418.14 L744.04,420.24 L745.00,422.19 L745.96,424.00 L746.92,425.68 L747.88,427.24 L748.84,428.68 L749.80,430.02 L750.76,431.26 L751.72,432.40 L752.68,433.46 L753.64,434.44 L754.60,435.34 L755.56,436.17 L756.52,436.94 L757.48,437.65 L758.44,438.30 L759.40,438.91 L760.36,439.46 L761.32,439.97 L762.28,440.45 L763.24,440.88 L764.20,441.28 L765.16,441.65 L766.12,441.99 L767.08,442.30 L768.04,442.58 L769.00,442.85 L769.96,443.09 L770.92,443.31 L771.88,443.52 L772.84,443.71 L773.80,443.88 L774.76,444.04 L775.72,444.19 L776.68,444.32 L777.64,444.45 L778.60,444.56 L779.56,444.66 L780.52,444.76 L781.48,444.85 L782.44,444.93 L783.40,445.00 L784.36,445.07 L785.32,445.14 L786.28,445.19 L787.24,445.25 L788.20,445.30 L789.16,445.34 L790.12,445.38 L791.08,445.42 L792.04,445.46 L793.00,445.49 L793.96,445.52 L794.92,445.54 L795.88,445.57 L796.84,445.59 L797.80,445.61 L798.76,445.63 L799.72,445.65 L800.68,445.67 L801.64,445.68 L802.60,445.69 L803.56,445.71 L804.52,445.72 L805.48,445.73 L806.44,445.74 L807.40,445.75 L808.36,445.76 L809.32,445.76 L810.28,445.77 L811.24,445.78 L812.20,445.78 L813.16,445.79 L814.12,445.79 L815.08,445.80 L816.04,445.80 L817.00,445.81" fill="none" stroke="#000" stroke-width="3.8" stroke-linejoin="round"/>
<path d="M529.00,84.79 L529.96,84.79 L530.92,84.80 L531.88,84.80 L532.84,84.81 L533.80,84.81 L534.76,84.82 L535.72,84.82 L536.68,84.83 L537.64,84.83 L538.60,84.84 L539.56,84.85 L540.52,84.85 L541.48,84.86 L542.44,84.87 L543.40,84.88 L544.36,84.88 L545.32,84.89 L546.28,84.90 L547.24,84.91 L548.20,84.92 L549.16,84.93 L550.12,84.94 L551.08,84.95 L552.04,84.96 L553.00,84.97 L553.96,84.99 L554.92,85.00 L555.88,85.01 L556.84,85.03 L557.80,85.04 L558.76,85.06 L559.72,85.08 L560.68,85.09 L561.64,85.11 L562.60,85.13 L563.56,85.15 L564.52,85.17 L565.48,85.19 L566.44,85.21 L567.40,85.23 L568.36,85.26 L569.32,85.28 L570.28,85.31 L571.24,85.34 L572.20,85.36 L573.16,85.39 L574.12,85.43 L575.08,85.46 L576.04,85.49 L577.00,85.53 L577.96,85.56 L578.92,85.60 L579.88,85.64 L580.84,85.68 L581.80,85.73 L582.76,85.77 L583.72,85.82 L584.68,85.87 L585.64,85.92 L586.60,85.98 L587.56,86.04 L588.52,86.09 L589.48,86.16 L590.44,86.22 L591.40,86.29 L592.36,86.36 L593.32,86.43 L594.28,86.51 L595.24,86.59 L596.20,86.67 L597.16,86.76 L598.12,86.85 L599.08,86.95 L600.04,87.05 L601.00,87.15 L601.96,87.26 L602.92,87.37 L603.88,87.49 L604.84,87.61 L605.80,87.74 L606.76,87.88 L607.72,88.02 L608.68,88.16 L609.64,88.31 L610.60,88.47 L611.56,88.64 L612.52,88.81 L613.48,88.99 L614.44,89.18 L615.40,89.38 L616.36,89.58 L617.32,89.80 L618.28,90.02 L619.24,90.25 L620.20,90.50 L621.16,90.75 L622.12,91.01 L623.08,91.29 L624.04,91.58 L625.00,91.88 L625.96,92.19 L626.92,92.51 L627.88,92.85 L628.84,93.21 L629.80,93.58 L630.76,93.96 L631.72,94.36 L632.68,94.78 L633.64,95.21 L634.60,95.66 L635.56,96.13 L636.52,96.63 L637.48,97.14 L638.44,97.67 L639.40,98.22 L640.36,98.80 L641.32,99.40 L642.28,100.03 L643.24,100.68 L644.20,101.35 L645.16,102.06 L646.12,102.79 L647.08,103.55 L648.04,104.34 L649.00,105.16 L649.96,106.02 L650.92,106.91 L651.88,107.83 L652.84,108.79 L653.80,109.78 L654.76,110.82 L655.72,111.89 L656.68,113.00 L657.64,114.15 L658.60,115.35 L659.56,116.59 L660.52,117.88 L661.48,119.21 L662.44,120.59 L663.40,122.02 L664.36,123.49 L665.32,125.02 L666.28,126.61 L667.24,128.24 L668.20,129.93 L669.16,131.68 L670.12,133.48 L671.08,135.34 L672.04,137.26 L673.00,139.24 L673.96,141.29 L674.92,143.39 L675.88,145.55 L676.84,147.78 L677.80,150.08 L678.76,152.43 L679.72,154.86 L680.68,157.34 L681.64,159.90 L682.60,162.51 L683.56,165.20 L684.52,167.95 L685.48,170.76 L686.44,173.64 L687.40,176.58 L688.36,179.59 L689.32,182.66 L690.28,185.79 L691.24,188.98 L692.20,192.23 L693.16,195.54 L694.12,198.90 L695.08,202.32 L696.04,205.79 L697.00,209.31 L697.96,212.87 L698.92,216.49 L699.88,220.14 L700.84,223.84 L701.80,227.57 L702.76,231.33 L703.72,235.13 L704.68,238.95 L705.64,242.80 L706.60,246.67 L707.56,250.56 L708.52,254.46 L709.48,258.37 L710.44,262.29 L711.40,266.21 L712.36,270.13 L713.32,274.04 L714.28,277.95 L715.24,281.84 L716.20,285.72 L717.16,289.58 L718.12,293.42 L719.08,297.23 L720.04,301.01 L721.00,304.76 L721.96,308.48 L722.92,312.15 L723.88,315.79 L724.84,319.38 L725.80,322.93 L726.76,326.42 L727.72,329.87 L728.68,333.26 L729.64,336.59 L730.60,339.88 L731.56,343.10 L732.52,346.26 L733.48,349.36 L734.44,352.40 L735.40,355.38 L736.36,358.29 L737.32,361.14 L738.28,363.92 L739.24,366.64 L740.20,369.29 L741.16,371.88 L742.12,374.40 L743.08,376.85 L744.04,379.24 L745.00,381.57 L745.96,383.83 L746.92,386.03 L747.88,388.17 L748.84,390.24 L749.80,392.25 L750.76,394.20 L751.72,396.10 L752.68,397.93 L753.64,399.71 L754.60,401.43 L755.56,403.09 L756.52,404.70 L757.48,406.26 L758.44,407.76 L759.40,409.22 L760.36,410.62 L761.32,411.98 L762.28,413.29 L763.24,414.55 L764.20,415.77 L765.16,416.94 L766.12,418.08 L767.08,419.17 L768.04,420.22 L769.00,421.24 L769.96,422.22 L770.92,423.16 L771.88,424.06 L772.84,424.94 L773.80,425.77 L774.76,426.58 L775.72,427.36 L776.68,428.11 L777.64,428.82 L778.60,429.51 L779.56,430.18 L780.52,430.82 L781.48,431.43 L782.44,432.02 L783.40,432.59 L784.36,433.13 L785.32,433.65 L786.28,434.15 L787.24,434.63 L788.20,435.10 L789.16,435.54 L790.12,435.97 L791.08,436.38 L792.04,436.77 L793.00,437.14 L793.96,437.51 L794.92,437.85 L795.88,438.18 L796.84,438.50 L797.80,438.81 L798.76,439.10 L799.72,439.38 L800.68,439.65 L801.64,439.91 L802.60,440.16 L803.56,440.40 L804.52,440.63 L805.48,440.85 L806.44,441.06 L807.40,441.26 L808.36,441.45 L809.32,441.63 L810.28,441.81 L811.24,441.98 L812.20,442.14 L813.16,442.30 L814.12,442.45 L815.08,442.59 L816.04,442.73 L817.00,442.86" fill="none" stroke="#000" stroke-width="3.8" stroke-linejoin="round"/>
<path d="M529.00,79.32 L529.96,79.32 L530.92,79.32 L531.88,79.32 L532.84,79.32 L533.80,79.32 L534.76,79.32 L535.72,79.32 L536.68,79.32 L537.64,79.32 L538.60,79.32 L539.56,79.32 L540.52,79.32 L541.48,79.32 L542.44,79.32 L543.40,79.32 L544.36,79.32 L545.32,79.32 L546.28,79.32 L547.24,79.32 L548.20,79.32 L549.16,79.32 L550.12,79.32 L551.08,79.32 L552.04,79.32 L553.00,79.32 L553.96,79.32 L554.92,79.32 L555.88,79.32 L556.84,79.32 L557.80,79.32 L558.76,79.32 L559.72,79.32 L560.68,79.32 L561.64,79.32 L562.60,79.32 L563.56,79.32 L564.52,79.32 L565.48,79.32 L566.44,79.32 L567.40,79.32 L568.36,79.32 L569.32,79.32 L570.28,79.32 L571.24,79.32 L572.20,79.32 L573.16,79.32 L574.12,79.32 L575.08,79.32 L576.04,79.32 L577.00,79.32 L577.96,79.32 L578.92,79.32 L579.88,79.32 L580.84,79.32 L581.80,79.32 L582.76,79.32 L583.72,79.32 L584.68,79.32 L585.64,79.32 L586.60,79.32 L587.56,79.32 L588.52,79.32 L589.48,79.32 L590.44,79.32 L591.40,79.32 L592.36,79.32 L593.32,79.32 L594.28,79.32 L595.24,79.32 L596.20,79.32 L597.16,79.32 L598.12,79.32 L599.08,79.32 L600.04,79.32 L601.00,79.32 L601.96,79.32 L602.92,79.32 L603.88,79.32 L604.84,79.32 L605.80,79.32 L606.76,79.32 L607.72,79.32 L608.68,79.32 L609.64,79.32 L610.60,79.32 L611.56,79.32 L612.52,79.32 L613.48,79.32 L614.44,79.32 L615.40,79.32 L616.36,79.32 L617.32,79.32 L618.28,79.32 L619.24,79.32 L620.20,79.32 L621.16,79.32 L622.12,79.32 L623.08,79.32 L624.04,79.32 L625.00,79.32 L625.96,79.32 L626.92,79.32 L627.88,79.32 L628.84,79.32 L629.80,79.32 L630.76,79.32 L631.72,79.32 L632.68,79.33 L633.64,79.33 L634.60,79.33 L635.56,79.33 L636.52,79.33 L637.48,79.33 L638.44,79.33 L639.40,79.33 L640.36,79.33 L641.32,79.33 L642.28,79.33 L643.24,79.33 L644.20,79.33 L645.16,79.34 L646.12,79.34 L647.08,79.34 L648.04,79.34 L649.00,79.34 L649.96,79.34 L650.92,79.35 L651.88,79.35 L652.84,79.35 L653.80,79.35 L654.76,79.36 L655.72,79.36 L656.68,79.36 L657.64,79.36 L658.60,79.37 L659.56,79.37 L660.52,79.38 L661.48,79.38 L662.44,79.39 L663.40,79.39 L664.36,79.40 L665.32,79.40 L666.28,79.41 L667.24,79.42 L668.20,79.43 L669.16,79.44 L670.12,79.45 L671.08,79.46 L672.04,79.47 L673.00,79.48 L673.96,79.49 L674.92,79.51 L675.88,79.52 L676.84,79.54 L677.80,79.56 L678.76,79.57 L679.72,79.60 L680.68,79.62 L681.64,79.64 L682.60,79.67 L683.56,79.70 L684.52,79.73 L685.48,79.76 L686.44,79.80 L687.40,79.84 L688.36,79.88 L689.32,79.93 L690.28,79.98 L691.24,80.03 L692.20,80.09 L693.16,80.15 L694.12,80.22 L695.08,80.29 L696.04,80.37 L697.00,80.46 L697.96,80.55 L698.92,80.66 L699.88,80.76 L700.84,80.88 L701.80,81.01 L702.76,81.15 L703.72,81.30 L704.68,81.46 L705.64,81.64 L706.60,81.82 L707.56,82.03 L708.52,82.25 L709.48,82.49 L710.44,82.75 L711.40,83.02 L712.36,83.32 L713.32,83.65 L714.28,84.00 L715.24,84.38 L716.20,84.79 L717.16,85.23 L718.12,85.71 L719.08,86.22 L720.04,86.78 L721.00,87.38 L721.96,88.03 L722.92,88.72 L723.88,89.47 L724.84,90.28 L725.80,91.15 L726.76,92.09 L727.72,93.10 L728.68,94.19 L729.64,95.36 L730.60,96.61 L731.56,97.96 L732.52,99.41 L733.48,100.96 L734.44,102.62 L735.40,104.41 L736.36,106.32 L737.32,108.36 L738.28,110.54 L739.24,112.87 L740.20,115.36 L741.16,118.00 L742.12,120.82 L743.08,123.82 L744.04,127.00 L745.00,130.37 L745.96,133.94 L746.92,137.71 L747.88,141.69 L748.84,145.88 L749.80,150.29 L750.76,154.92 L751.72,159.76 L752.68,164.83 L753.64,170.11 L754.60,175.61 L755.56,181.32 L756.52,187.23 L757.48,193.34 L758.44,199.63 L759.40,206.10 L760.36,212.72 L761.32,219.49 L762.28,226.38 L763.24,233.39 L764.20,240.48 L765.16,247.64 L766.12,254.84 L767.08,262.07 L768.04,269.30 L769.00,276.51 L769.96,283.68 L770.92,290.78 L771.88,297.80 L772.84,304.71 L773.80,311.50 L774.76,318.14 L775.72,324.63 L776.68,330.95 L777.64,337.08 L778.60,343.02 L779.56,348.76 L780.52,354.29 L781.48,359.60 L782.44,364.70 L783.40,369.58 L784.36,374.24 L785.32,378.68 L786.28,382.90 L787.24,386.91 L788.20,390.71 L789.16,394.31 L790.12,397.71 L791.08,400.91 L792.04,403.93 L793.00,406.78 L793.96,409.45 L794.92,411.96 L795.88,414.31 L796.84,416.51 L797.80,418.57 L798.76,420.50 L799.72,422.30 L800.68,423.98 L801.64,425.55 L802.60,427.01 L803.56,428.37 L804.52,429.64 L805.48,430.82 L806.44,431.92 L807.40,432.94 L808.36,433.89 L809.32,434.77 L810.28,435.58 L811.24,436.34 L812.20,437.05 L813.16,437.70 L814.12,438.31 L815.08,438.87 L816.04,439.39 L817.00,439.87" fill="none" stroke="#000" stroke-width="3.8" stroke-linejoin="round"/>
<path d="M529.00,111.94 L529.96,111.94 L530.92,111.94 L531.88,111.94 L532.84,111.94 L533.80,111.94 L534.76,111.94 L535.72,111.94 L536.68,111.94 L537.64,111.94 L538.60,111.94 L539.56,111.94 L540.52,111.94 L541.48,111.94 L542.44,111.94 L543.40,111.94 L544.36,111.94 L545.32,111.94 L546.28,111.94 L547.24,111.94 L548.20,111.94 L549.16,111.94 L550.12,111.94 L551.08,111.94 L552.04,111.94 L553.00,111.94 L553.96,111.94 L554.92,111.94 L555.88,111.94 L556.84,111.94 L557.80,111.94 L558.76,111.94 L559.72,111.94 L560.68,111.94 L561.64,111.94 L562.60,111.94 L563.56,111.94 L564.52,111.94 L565.48,111.94 L566.44,111.94 L567.40,111.94 L568.36,111.94 L569.32,111.94 L570.28,111.94 L571.24,111.94 L572.20,111.94 L573.16,111.94 L574.12,111.94 L575.08,111.94 L576.04,111.94 L577.00,111.94 L577.96,111.94 L578.92,111.94 L579.88,111.94 L580.84,111.94 L581.80,111.94 L582.76,111.94 L583.72,111.94 L584.68,111.94 L585.64,111.94 L586.60,111.94 L587.56,111.94 L588.52,111.94 L589.48,111.94 L590.44,111.94 L591.40,111.94 L592.36,111.94 L593.32,111.94 L594.28,111.94 L595.24,111.94 L596.20,111.94 L597.16,111.94 L598.12,111.94 L599.08,111.94 L600.04,111.94 L601.00,111.94 L601.96,111.94 L602.92,111.94 L603.88,111.94 L604.84,111.94 L605.80,111.94 L606.76,111.94 L607.72,111.94 L608.68,111.94 L609.64,111.94 L610.60,111.94 L611.56,111.94 L612.52,111.94 L613.48,111.94 L614.44,111.94 L615.40,111.94 L616.36,111.94 L617.32,111.94 L618.28,111.94 L619.24,111.94 L620.20,111.94 L621.16,111.94 L622.12,111.94 L623.08,111.94 L624.04,111.95 L625.00,111.95 L625.96,111.95 L626.92,111.95 L627.88,111.95 L628.84,111.95 L629.80,111.95 L630.76,111.95 L631.72,111.95 L632.68,111.95 L633.64,111.95 L634.60,111.95 L635.56,111.95 L636.52,111.95 L637.48,111.95 L638.44,111.95 L639.40,111.95 L640.36,111.95 L641.32,111.95 L642.28,111.96 L643.24,111.96 L644.20,111.96 L645.16,111.96 L646.12,111.96 L647.08,111.96 L648.04,111.96 L649.00,111.97 L649.96,111.97 L650.92,111.97 L651.88,111.97 L652.84,111.98 L653.80,111.98 L654.76,111.98 L655.72,111.99 L656.68,111.99 L657.64,111.99 L658.60,112.00 L659.56,112.00 L660.52,112.01 L661.48,112.02 L662.44,112.02 L663.40,112.03 L664.36,112.04 L665.32,112.04 L666.28,112.05 L667.24,112.06 L668.20,112.07 L669.16,112.09 L670.12,112.10 L671.08,112.11 L672.04,112.13 L673.00,112.15 L673.96,112.16 L674.92,112.18 L675.88,112.21 L676.84,112.23 L677.80,112.25 L678.76,112.28 L679.72,112.31 L680.68,112.35 L681.64,112.38 L682.60,112.42 L683.56,112.47 L684.52,112.51 L685.48,112.56 L686.44,112.62 L687.40,112.68 L688.36,112.75 L689.32,112.82 L690.28,112.90 L691.24,112.98 L692.20,113.07 L693.16,113.17 L694.12,113.28 L695.08,113.40 L696.04,113.53 L697.00,113.68 L697.96,113.83 L698.92,114.00 L699.88,114.18 L700.84,114.38 L701.80,114.60 L702.76,114.84 L703.72,115.09 L704.68,115.37 L705.64,115.68 L706.60,116.01 L707.56,116.37 L708.52,116.76 L709.48,117.18 L710.44,117.65 L711.40,118.15 L712.36,118.69 L713.32,119.29 L714.28,119.93 L715.24,120.63 L716.20,121.38 L717.16,122.21 L718.12,123.10 L719.08,124.06 L720.04,125.10 L721.00,126.23 L721.96,127.46 L722.92,128.78 L723.88,130.21 L724.84,131.75 L725.80,133.41 L726.76,135.20 L727.72,137.13 L728.68,139.20 L729.64,141.43 L730.60,143.83 L731.56,146.39 L732.52,149.14 L733.48,152.07 L734.44,155.21 L735.40,158.55 L736.36,162.10 L737.32,165.87 L738.28,169.87 L739.24,174.10 L740.20,178.57 L741.16,183.27 L742.12,188.20 L743.08,193.38 L744.04,198.78 L745.00,204.41 L745.96,210.27 L746.92,216.33 L747.88,222.59 L748.84,229.04 L749.80,235.65 L750.76,242.41 L751.72,249.30 L752.68,256.30 L753.64,263.37 L754.60,270.51 L755.56,277.67 L756.52,284.84 L757.48,291.99 L758.44,299.09 L759.40,306.11 L760.36,313.04 L761.32,319.85 L762.28,326.51 L763.24,333.02 L764.20,339.34 L765.16,345.48 L766.12,351.40 L767.08,357.11 L768.04,362.59 L769.00,367.85 L769.96,372.87 L770.92,377.65 L771.88,382.19 L772.84,386.50 L773.80,390.58 L774.76,394.43 L775.72,398.05 L776.68,401.47 L777.64,404.67 L778.60,407.67 L779.56,410.48 L780.52,413.11 L781.48,415.56 L782.44,417.84 L783.40,419.97 L784.36,421.95 L785.32,423.79 L786.28,425.49 L787.24,427.07 L788.20,428.54 L789.16,429.90 L790.12,431.15 L791.08,432.31 L792.04,433.38 L793.00,434.38 L793.96,435.29 L794.92,436.13 L795.88,436.91 L796.84,437.63 L797.80,438.29 L798.76,438.90 L799.72,439.46 L800.68,439.98 L801.64,440.45 L802.60,440.89 L803.56,441.29 L804.52,441.66 L805.48,442.00 L806.44,442.32 L807.40,442.61 L808.36,442.87 L809.32,443.11 L810.28,443.34 L811.24,443.54 L812.20,443.73 L813.16,443.90 L814.12,444.06 L815.08,444.21 L816.04,444.34 L817.00,444.47" fill="none" stroke="#000" stroke-width="3.8" stroke-linejoin="round"/>
<path d="M529.00,72.41 L529.96,72.41 L530.92,72.41 L531.88,72.41 L532.84,72.41 L533.80,72.41 L534.76,72.42 L535.72,72.42 L536.68,72.42 L537.64,72.42 L538.60,72.42 L539.56,72.42 L540.52,72.42 L541.48,72.42 L542.44,72.42 L543.40,72.42 L544.36,72.42 L545.32,72.42 L546.28,72.42 L547.24,72.42 L548.20,72.42 L549.16,72.42 L550.12,72.43 L551.08,72.43 L552.04,72.43 L553.00,72.43 L553.96,72.43 L554.92,72.43 L555.88,72.43 L556.84,72.44 L557.80,72.44 L558.76,72.44 L559.72,72.44 L560.68,72.45 L561.64,72.45 L562.60,72.45 L563.56,72.46 L564.52,72.46 L565.48,72.46 L566.44,72.47 L567.40,72.47 L568.36,72.48 L569.32,72.49 L570.28,72.49 L571.24,72.50 L572.20,72.51 L573.16,72.51 L574.12,72.52 L575.08,72.53 L576.04,72.54 L577.00,72.55 L577.96,72.57 L578.92,72.58 L579.88,72.59 L580.84,72.61 L581.80,72.63 L582.76,72.64 L583.72,72.66 L584.68,72.69 L585.64,72.71 L586.60,72.73 L587.56,72.76 L588.52,72.79 L589.48,72.82 L590.44,72.86 L591.40,72.90 L592.36,72.94 L593.32,72.98 L594.28,73.03 L595.24,73.09 L596.20,73.14 L597.16,73.21 L598.12,73.27 L599.08,73.35 L600.04,73.43 L601.00,73.51 L601.96,73.61 L602.92,73.71 L603.88,73.82 L604.84,73.94 L605.80,74.07 L606.76,74.21 L607.72,74.36 L608.68,74.52 L609.64,74.70 L610.60,74.90 L611.56,75.11 L612.52,75.33 L613.48,75.58 L614.44,75.85 L615.40,76.14 L616.36,76.45 L617.32,76.79 L618.28,77.16 L619.24,77.56 L620.20,77.99 L621.16,78.46 L622.12,78.96 L623.08,79.51 L624.04,80.10 L625.00,80.74 L625.96,81.43 L626.92,82.18 L627.88,82.99 L628.84,83.86 L629.80,84.81 L630.76,85.82 L631.72,86.92 L632.68,88.11 L633.64,89.38 L634.60,90.76 L635.56,92.23 L636.52,93.83 L637.48,95.54 L638.44,97.37 L639.40,99.35 L640.36,101.46 L641.32,103.73 L642.28,106.15 L643.24,108.75 L644.20,111.52 L645.16,114.47 L646.12,117.62 L647.08,120.97 L648.04,124.52 L649.00,128.30 L649.96,132.29 L650.92,136.51 L651.88,140.97 L652.84,145.66 L653.80,150.59 L654.76,155.76 L655.72,161.17 L656.68,166.81 L657.64,172.69 L658.60,178.79 L659.56,185.11 L660.52,191.64 L661.48,198.36 L662.44,205.26 L663.40,212.33 L664.36,219.54 L665.32,226.88 L666.28,234.32 L667.24,241.84 L668.20,249.41 L669.16,257.02 L670.12,264.63 L671.08,272.23 L672.04,279.77 L673.00,287.25 L673.96,294.64 L674.92,301.91 L675.88,309.05 L676.84,316.02 L677.80,322.83 L678.76,329.45 L679.72,335.86 L680.68,342.07 L681.64,348.05 L682.60,353.80 L683.56,359.31 L684.52,364.59 L685.48,369.63 L686.44,374.43 L687.40,378.99 L688.36,383.31 L689.32,387.41 L690.28,391.28 L691.24,394.94 L692.20,398.38 L693.16,401.62 L694.12,404.66 L695.08,407.51 L696.04,410.18 L697.00,412.68 L697.96,415.02 L698.92,417.20 L699.88,419.24 L700.84,421.14 L701.80,422.91 L702.76,424.55 L703.72,426.08 L704.68,427.50 L705.64,428.82 L706.60,430.04 L707.56,431.18 L708.52,432.23 L709.48,433.21 L710.44,434.11 L711.40,434.95 L712.36,435.73 L713.32,436.44 L714.28,437.11 L715.24,437.72 L716.20,438.29 L717.16,438.81 L718.12,439.30 L719.08,439.74 L720.04,440.16 L721.00,440.54 L721.96,440.89 L722.92,441.22 L723.88,441.52 L724.84,441.79 L725.80,442.05 L726.76,442.29 L727.72,442.50 L728.68,442.70 L729.64,442.89 L730.60,443.06 L731.56,443.22 L732.52,443.36 L733.48,443.50 L734.44,443.62 L735.40,443.74 L736.36,443.84 L737.32,443.94 L738.28,444.03 L739.24,444.11 L740.20,444.19 L741.16,444.26 L742.12,444.32 L743.08,444.38 L744.04,444.44 L745.00,444.49 L745.96,444.53 L746.92,444.58 L747.88,444.62 L748.84,444.65 L749.80,444.69 L750.76,444.72 L751.72,444.74 L752.68,444.77 L753.64,444.80 L754.60,444.82 L755.56,444.84 L756.52,444.86 L757.48,444.88 L758.44,444.89 L759.40,444.91 L760.36,444.92 L761.32,444.93 L762.28,444.94 L763.24,444.95 L764.20,444.96 L765.16,444.97 L766.12,444.98 L767.08,444.99 L768.04,445.00 L769.00,445.00 L769.96,445.01 L770.92,445.02 L771.88,445.02 L772.84,445.03 L773.80,445.03 L774.76,445.03 L775.72,445.04 L776.68,445.04 L777.64,445.04 L778.60,445.05 L779.56,445.05 L780.52,445.05 L781.48,445.05 L782.44,445.06 L783.40,445.06 L784.36,445.06 L785.32,445.06 L786.28,445.06 L787.24,445.06 L788.20,445.07 L789.16,445.07 L790.12,445.07 L791.08,445.07 L792.04,445.07 L793.00,445.07 L793.96,445.07 L794.92,445.07 L795.88,445.07 L796.84,445.07 L797.80,445.07 L798.76,445.07 L799.72,445.08 L800.68,445.08 L801.64,445.08 L802.60,445.08 L803.56,445.08 L804.52,445.08 L805.48,445.08 L806.44,445.08 L807.40,445.08 L808.36,445.08 L809.32,445.08 L810.28,445.08 L811.24,445.08 L812.20,445.08 L813.16,445.08 L814.12,445.08 L815.08,445.08 L816.04,445.08 L817.00,445.08" fill="none" stroke="#058505" stroke-width="3.6" stroke-linejoin="round"/>
<line x1="529.3" y1="64.3" x2="529.3" y2="75.7" stroke="#000" stroke-width="5.5"/>
<rect x="521.8" y="61.8" width="15" height="5" fill="#000"/>
<rect x="521.8" y="73.2" width="15" height="5" fill="#000"/>
<line x1="558.0" y1="62.2" x2="558.0" y2="77.8" stroke="#000" stroke-width="5.5"/>
<rect x="550.5" y="59.7" width="15" height="5" fill="#000"/>
<rect x="550.5" y="75.3" width="15" height="5" fill="#000"/>
<line x1="586.8" y1="63.4" x2="586.8" y2="76.6" stroke="#000" stroke-width="5.5"/>
<rect x="579.3" y="60.9" width="15" height="5" fill="#000"/>
<rect x="579.3" y="74.1" width="15" height="5" fill="#000"/>
<line x1="615.5" y1="63.8" x2="615.5" y2="80.2" stroke="#000" stroke-width="5.5"/>
<rect x="608.0" y="61.3" width="15" height="5" fill="#000"/>
<rect x="608.0" y="77.7" width="15" height="5" fill="#000"/>
<line x1="644.3" y1="65.6" x2="644.3" y2="82.4" stroke="#000" stroke-width="5.5"/>
<rect x="636.8" y="63.1" width="15" height="5" fill="#000"/>
<rect x="636.8" y="79.9" width="15" height="5" fill="#000"/>
<line x1="673.0" y1="66.5" x2="673.0" y2="75.5" stroke="#000" stroke-width="5.5"/>
<rect x="665.5" y="64.0" width="15" height="5" fill="#000"/>
<rect x="665.5" y="73.0" width="15" height="5" fill="#000"/>
<line x1="701.8" y1="71.9" x2="701.8" y2="80.1" stroke="#000" stroke-width="5.5"/>
<rect x="694.3" y="69.4" width="15" height="5" fill="#000"/>
<rect x="694.3" y="77.6" width="15" height="5" fill="#000"/>
<line x1="730.5" y1="80.0" x2="730.5" y2="85.5" stroke="#000" stroke-width="5.5"/>
<rect x="723.0" y="77.5" width="15" height="5" fill="#000"/>
<rect x="723.0" y="83.0" width="15" height="5" fill="#000"/>
<line x1="759.3" y1="82.0" x2="759.3" y2="210.0" stroke="#000" stroke-width="5.5"/>
<rect x="751.8" y="79.5" width="15" height="5" fill="#000"/>
<rect x="751.8" y="207.5" width="15" height="5" fill="#000"/>
<line x1="529.3" y1="98.1" x2="529.3" y2="117.9" stroke="#000" stroke-width="5.5"/>
<rect x="521.8" y="95.6" width="15" height="5" fill="#000"/>
<rect x="521.8" y="115.4" width="15" height="5" fill="#000"/>
<line x1="558.0" y1="72.2" x2="558.0" y2="83.8" stroke="#000" stroke-width="5.5"/>
<rect x="550.5" y="69.7" width="15" height="5" fill="#000"/>
<rect x="550.5" y="81.3" width="15" height="5" fill="#000"/>
<line x1="586.8" y1="72.4" x2="586.8" y2="83.6" stroke="#000" stroke-width="5.5"/>
<rect x="579.3" y="69.9" width="15" height="5" fill="#000"/>
<rect x="579.3" y="81.1" width="15" height="5" fill="#000"/>
<line x1="615.5" y1="69.0" x2="615.5" y2="91.0" stroke="#000" stroke-width="5.5"/>
<rect x="608.0" y="66.5" width="15" height="5" fill="#000"/>
<rect x="608.0" y="88.5" width="15" height="5" fill="#000"/>
<line x1="644.3" y1="74.7" x2="644.3" y2="89.3" stroke="#000" stroke-width="5.5"/>
<rect x="636.8" y="72.2" width="15" height="5" fill="#000"/>
<rect x="636.8" y="86.8" width="15" height="5" fill="#000"/>
<line x1="673.0" y1="68.1" x2="673.0" y2="87.9" stroke="#000" stroke-width="5.5"/>
<rect x="665.5" y="65.6" width="15" height="5" fill="#000"/>
<rect x="665.5" y="85.4" width="15" height="5" fill="#000"/>
<line x1="701.8" y1="76.7" x2="701.8" y2="91.3" stroke="#000" stroke-width="5.5"/>
<rect x="694.3" y="74.2" width="15" height="5" fill="#000"/>
<rect x="694.3" y="88.8" width="15" height="5" fill="#000"/>
<line x1="759.3" y1="160.0" x2="759.3" y2="232.0" stroke="#000" stroke-width="5.5"/>
<rect x="751.8" y="157.5" width="15" height="5" fill="#000"/>
<rect x="751.8" y="229.5" width="15" height="5" fill="#000"/>
<line x1="529.3" y1="69.5" x2="529.3" y2="86.5" stroke="#000" stroke-width="5.5"/>
<rect x="521.8" y="67.0" width="15" height="5" fill="#000"/>
<rect x="521.8" y="84.0" width="15" height="5" fill="#000"/>
<line x1="558.0" y1="80.9" x2="558.0" y2="91.1" stroke="#000" stroke-width="5.5"/>
<rect x="550.5" y="78.4" width="15" height="5" fill="#000"/>
<rect x="550.5" y="88.6" width="15" height="5" fill="#000"/>
<line x1="586.8" y1="61.0" x2="586.8" y2="156.0" stroke="#000" stroke-width="5.5"/>
<rect x="579.3" y="153.5" width="15" height="5" fill="#000"/>
<line x1="615.5" y1="61.0" x2="615.5" y2="73.4" stroke="#000" stroke-width="5.5"/>
<rect x="608.0" y="70.9" width="15" height="5" fill="#000"/>
<line x1="644.3" y1="79.9" x2="644.3" y2="100.1" stroke="#000" stroke-width="5.5"/>
<rect x="636.8" y="77.4" width="15" height="5" fill="#000"/>
<rect x="636.8" y="97.6" width="15" height="5" fill="#000"/>
<line x1="673.0" y1="78.3" x2="673.0" y2="93.7" stroke="#000" stroke-width="5.5"/>
<rect x="665.5" y="75.8" width="15" height="5" fill="#000"/>
<rect x="665.5" y="91.2" width="15" height="5" fill="#000"/>
<line x1="701.8" y1="82.8" x2="701.8" y2="101.2" stroke="#000" stroke-width="5.5"/>
<rect x="694.3" y="80.3" width="15" height="5" fill="#000"/>
<rect x="694.3" y="98.7" width="15" height="5" fill="#000"/>
<line x1="730.5" y1="123.0" x2="730.5" y2="167.0" stroke="#000" stroke-width="5.5"/>
<rect x="723.0" y="120.5" width="15" height="5" fill="#000"/>
<rect x="723.0" y="164.5" width="15" height="5" fill="#000"/>
<line x1="529.3" y1="61.0" x2="529.3" y2="70.7" stroke="#000" stroke-width="5.5"/>
<rect x="521.8" y="68.2" width="15" height="5" fill="#000"/>
<line x1="558.0" y1="61.0" x2="558.0" y2="66.4" stroke="#000" stroke-width="5.5"/>
<rect x="550.5" y="63.9" width="15" height="5" fill="#000"/>
<line x1="586.8" y1="138.7" x2="586.8" y2="157.3" stroke="#000" stroke-width="5.5"/>
<rect x="579.3" y="136.2" width="15" height="5" fill="#000"/>
<rect x="579.3" y="154.8" width="15" height="5" fill="#000"/>
<line x1="615.5" y1="61.0" x2="615.5" y2="171.0" stroke="#000" stroke-width="5.5"/>
<rect x="608.0" y="168.5" width="15" height="5" fill="#000"/>
<line x1="644.3" y1="88.9" x2="644.3" y2="105.1" stroke="#000" stroke-width="5.5"/>
<rect x="636.8" y="86.4" width="15" height="5" fill="#000"/>
<rect x="636.8" y="102.6" width="15" height="5" fill="#000"/>
<line x1="673.0" y1="87.9" x2="673.0" y2="100.1" stroke="#000" stroke-width="5.5"/>
<rect x="665.5" y="85.4" width="15" height="5" fill="#000"/>
<rect x="665.5" y="97.6" width="15" height="5" fill="#000"/>
<line x1="701.8" y1="61.0" x2="701.8" y2="66.2" stroke="#000" stroke-width="5.5"/>
<rect x="694.3" y="63.7" width="15" height="5" fill="#000"/>
<line x1="730.5" y1="100.0" x2="730.5" y2="242.7" stroke="#000" stroke-width="5.5"/>
<rect x="723.0" y="97.5" width="15" height="5" fill="#000"/>
<rect x="723.0" y="240.2" width="15" height="5" fill="#000"/>
<line x1="529.3" y1="75.9" x2="529.3" y2="96.1" stroke="#000" stroke-width="5.5"/>
<rect x="521.8" y="73.4" width="15" height="5" fill="#000"/>
<rect x="521.8" y="93.6" width="15" height="5" fill="#000"/>
<line x1="558.0" y1="85.7" x2="558.0" y2="100.3" stroke="#000" stroke-width="5.5"/>
<rect x="550.5" y="83.2" width="15" height="5" fill="#000"/>
<rect x="550.5" y="97.8" width="15" height="5" fill="#000"/>
<line x1="586.8" y1="77.0" x2="586.8" y2="95.0" stroke="#000" stroke-width="5.5"/>
<rect x="579.3" y="74.5" width="15" height="5" fill="#000"/>
<rect x="579.3" y="92.5" width="15" height="5" fill="#000"/>
<line x1="615.5" y1="85.8" x2="615.5" y2="106.2" stroke="#000" stroke-width="5.5"/>
<rect x="608.0" y="83.3" width="15" height="5" fill="#000"/>
<rect x="608.0" y="103.7" width="15" height="5" fill="#000"/>
<line x1="644.3" y1="61.0" x2="644.3" y2="76.0" stroke="#000" stroke-width="5.5"/>
<rect x="636.8" y="73.5" width="15" height="5" fill="#000"/>
<line x1="673.0" y1="118.0" x2="673.0" y2="133.0" stroke="#000" stroke-width="5.5"/>
<rect x="665.5" y="115.5" width="15" height="5" fill="#000"/>
<rect x="665.5" y="130.5" width="15" height="5" fill="#000"/>
<line x1="701.8" y1="147.7" x2="701.8" y2="183.7" stroke="#000" stroke-width="5.5"/>
<rect x="694.3" y="145.2" width="15" height="5" fill="#000"/>
<rect x="694.3" y="181.2" width="15" height="5" fill="#000"/>
<line x1="730.5" y1="363.0" x2="730.5" y2="379.6" stroke="#000" stroke-width="5.5"/>
<rect x="723.0" y="360.5" width="15" height="5" fill="#000"/>
<rect x="723.0" y="377.1" width="15" height="5" fill="#000"/>
<line x1="529.3" y1="80.0" x2="529.3" y2="183.4" stroke="#000" stroke-width="5.5"/>
<rect x="521.8" y="77.5" width="15" height="5" fill="#000"/>
<rect x="521.8" y="180.9" width="15" height="5" fill="#000"/>
<line x1="558.0" y1="89.6" x2="558.0" y2="110.4" stroke="#000" stroke-width="5.5"/>
<rect x="550.5" y="87.1" width="15" height="5" fill="#000"/>
<rect x="550.5" y="107.9" width="15" height="5" fill="#000"/>
<line x1="586.8" y1="87.2" x2="586.8" y2="100.8" stroke="#000" stroke-width="5.5"/>
<rect x="579.3" y="84.7" width="15" height="5" fill="#000"/>
<rect x="579.3" y="98.3" width="15" height="5" fill="#000"/>
<line x1="615.5" y1="94.4" x2="615.5" y2="113.6" stroke="#000" stroke-width="5.5"/>
<rect x="608.0" y="91.9" width="15" height="5" fill="#000"/>
<rect x="608.0" y="111.1" width="15" height="5" fill="#000"/>
<line x1="644.3" y1="96.9" x2="644.3" y2="111.1" stroke="#000" stroke-width="5.5"/>
<rect x="636.8" y="94.4" width="15" height="5" fill="#000"/>
<rect x="636.8" y="108.6" width="15" height="5" fill="#000"/>
<line x1="673.0" y1="141.0" x2="673.0" y2="173.4" stroke="#000" stroke-width="5.5"/>
<rect x="665.5" y="138.5" width="15" height="5" fill="#000"/>
<rect x="665.5" y="170.9" width="15" height="5" fill="#000"/>
<line x1="701.8" y1="218.0" x2="701.8" y2="252.0" stroke="#000" stroke-width="5.5"/>
<rect x="694.3" y="215.5" width="15" height="5" fill="#000"/>
<rect x="694.3" y="249.5" width="15" height="5" fill="#000"/>
<line x1="529.3" y1="70.0" x2="529.3" y2="147.2" stroke="#000" stroke-width="5.5"/>
<rect x="521.8" y="67.5" width="15" height="5" fill="#000"/>
<rect x="521.8" y="144.7" width="15" height="5" fill="#000"/>
<line x1="558.0" y1="80.0" x2="558.0" y2="153.0" stroke="#000" stroke-width="5.5"/>
<rect x="550.5" y="77.5" width="15" height="5" fill="#000"/>
<rect x="550.5" y="150.5" width="15" height="5" fill="#000"/>
<line x1="586.8" y1="120.0" x2="586.8" y2="150.0" stroke="#000" stroke-width="5.5"/>
<rect x="579.3" y="117.5" width="15" height="5" fill="#000"/>
<rect x="579.3" y="147.5" width="15" height="5" fill="#000"/>
<line x1="615.5" y1="99.5" x2="615.5" y2="120.5" stroke="#000" stroke-width="5.5"/>
<rect x="608.0" y="97.0" width="15" height="5" fill="#000"/>
<rect x="608.0" y="118.0" width="15" height="5" fill="#000"/>
<line x1="644.3" y1="83.0" x2="644.3" y2="133.2" stroke="#000" stroke-width="5.5"/>
<rect x="636.8" y="80.5" width="15" height="5" fill="#000"/>
<rect x="636.8" y="130.7" width="15" height="5" fill="#000"/>
<line x1="673.0" y1="91.8" x2="673.0" y2="112.2" stroke="#000" stroke-width="5.5"/>
<rect x="665.5" y="89.3" width="15" height="5" fill="#000"/>
<rect x="665.5" y="109.7" width="15" height="5" fill="#000"/>
<line x1="701.8" y1="95.0" x2="701.8" y2="217.6" stroke="#000" stroke-width="5.5"/>
<rect x="694.3" y="92.5" width="15" height="5" fill="#000"/>
<rect x="694.3" y="215.1" width="15" height="5" fill="#000"/>
<line x1="759.3" y1="176.0" x2="759.3" y2="272.0" stroke="#000" stroke-width="5.5"/>
<rect x="751.8" y="173.5" width="15" height="5" fill="#000"/>
<rect x="751.8" y="269.5" width="15" height="5" fill="#000"/>
<line x1="529.3" y1="183.4" x2="529.3" y2="234.4" stroke="#000" stroke-width="5.5"/>
<rect x="521.8" y="180.9" width="15" height="5" fill="#000"/>
<rect x="521.8" y="231.9" width="15" height="5" fill="#000"/>
<line x1="558.0" y1="100.0" x2="558.0" y2="162.8" stroke="#000" stroke-width="5.5"/>
<rect x="550.5" y="97.5" width="15" height="5" fill="#000"/>
<rect x="550.5" y="160.3" width="15" height="5" fill="#000"/>
<line x1="586.8" y1="99.3" x2="586.8" y2="108.7" stroke="#000" stroke-width="5.5"/>
<rect x="579.3" y="96.8" width="15" height="5" fill="#000"/>
<rect x="579.3" y="106.2" width="15" height="5" fill="#000"/>
<line x1="615.5" y1="61.0" x2="615.5" y2="182.0" stroke="#000" stroke-width="5.5"/>
<rect x="608.0" y="179.5" width="15" height="5" fill="#000"/>
<line x1="644.3" y1="61.0" x2="644.3" y2="185.5" stroke="#000" stroke-width="5.5"/>
<rect x="636.8" y="183.0" width="15" height="5" fill="#000"/>
<line x1="673.0" y1="61.0" x2="673.0" y2="199.0" stroke="#000" stroke-width="5.5"/>
<rect x="665.5" y="196.5" width="15" height="5" fill="#000"/>
<line x1="701.8" y1="107.0" x2="701.8" y2="117.0" stroke="#000" stroke-width="5.5"/>
<rect x="694.3" y="104.5" width="15" height="5" fill="#000"/>
<rect x="694.3" y="114.5" width="15" height="5" fill="#000"/>
<line x1="730.5" y1="165.0" x2="730.5" y2="261.8" stroke="#000" stroke-width="5.5"/>
<rect x="723.0" y="162.5" width="15" height="5" fill="#000"/>
<rect x="723.0" y="259.3" width="15" height="5" fill="#000"/>
<line x1="759.3" y1="272.0" x2="759.3" y2="327.5" stroke="#000" stroke-width="5.5"/>
<rect x="751.8" y="269.5" width="15" height="5" fill="#000"/>
<rect x="751.8" y="325.0" width="15" height="5" fill="#000"/>
<path d="M529.30,62.04 L537.26,70.00 L529.30,77.96 L521.34,70.00Z" fill="none" stroke="#000" stroke-width="5.0" stroke-linejoin="miter"/>
<path d="M558.05,62.04 L566.01,70.00 L558.05,77.96 L550.09,70.00Z" fill="none" stroke="#000" stroke-width="5.0" stroke-linejoin="miter"/>
<path d="M586.80,62.04 L594.76,70.00 L586.80,77.96 L578.84,70.00Z" fill="none" stroke="#000" stroke-width="5.0" stroke-linejoin="miter"/>
<path d="M615.55,64.04 L623.51,72.00 L615.55,79.96 L607.59,72.00Z" fill="none" stroke="#000" stroke-width="5.0" stroke-linejoin="miter"/>
<path d="M644.30,66.04 L652.26,74.00 L644.30,81.96 L636.34,74.00Z" fill="none" stroke="#000" stroke-width="5.0" stroke-linejoin="miter"/>
<path d="M673.05,63.04 L681.01,71.00 L673.05,78.96 L665.09,71.00Z" fill="none" stroke="#000" stroke-width="5.0" stroke-linejoin="miter"/>
<path d="M701.80,68.04 L709.76,76.00 L701.80,83.96 L693.84,76.00Z" fill="none" stroke="#000" stroke-width="5.0" stroke-linejoin="miter"/>
<path d="M730.55,61.54 L738.51,69.50 L730.55,77.46 L722.59,69.50Z" fill="none" stroke="#000" stroke-width="5.0" stroke-linejoin="miter"/>
<path d="M759.30,138.74 L767.26,146.70 L759.30,154.66 L751.34,146.70Z" fill="none" stroke="#000" stroke-width="5.0" stroke-linejoin="miter"/>
<path d="M788.05,303.04 L796.01,311.00 L788.05,318.96 L780.09,311.00Z" fill="none" stroke="#000" stroke-width="5.0" stroke-linejoin="miter"/>
<path d="M816.80,414.63 L824.76,422.59 L816.80,430.55 L808.84,422.59Z" fill="none" stroke="#000" stroke-width="5.0" stroke-linejoin="miter"/>
<path d="M529.30,113.54 L522.85,100.63 L535.75,100.63Z" fill="none" stroke="#000" stroke-width="5" stroke-linejoin="miter"/>
<path d="M558.05,83.54 L551.60,70.63 L564.50,70.63Z" fill="none" stroke="#000" stroke-width="5" stroke-linejoin="miter"/>
<path d="M586.80,83.54 L580.35,70.63 L593.25,70.63Z" fill="none" stroke="#000" stroke-width="5" stroke-linejoin="miter"/>
<path d="M615.55,85.54 L609.10,72.63 L622.00,72.63Z" fill="none" stroke="#000" stroke-width="5" stroke-linejoin="miter"/>
<path d="M644.30,87.54 L637.85,74.63 L650.75,74.63Z" fill="none" stroke="#000" stroke-width="5" stroke-linejoin="miter"/>
<path d="M673.05,83.54 L666.60,70.63 L679.50,70.63Z" fill="none" stroke="#000" stroke-width="5" stroke-linejoin="miter"/>
<path d="M701.80,89.54 L695.35,76.63 L708.25,76.63Z" fill="none" stroke="#000" stroke-width="5" stroke-linejoin="miter"/>
<path d="M730.55,83.84 L724.10,70.93 L737.00,70.93Z" fill="none" stroke="#000" stroke-width="5" stroke-linejoin="miter"/>
<path d="M759.30,177.54 L752.85,164.63 L765.75,164.63Z" fill="none" stroke="#000" stroke-width="5" stroke-linejoin="miter"/>
<path d="M788.05,351.18 L781.60,338.27 L794.50,338.27Z" fill="none" stroke="#000" stroke-width="5" stroke-linejoin="miter"/>
<path d="M816.80,438.97 L810.35,426.06 L823.25,426.06Z" fill="none" stroke="#000" stroke-width="5" stroke-linejoin="miter"/>
<rect x="521.50" y="70.20" width="15.60" height="15.60" rx="1.6" fill="none" stroke="#000" stroke-width="5.2" stroke-linejoin="round"/>
<rect x="550.25" y="78.20" width="15.60" height="15.60" rx="1.6" fill="none" stroke="#000" stroke-width="5.2" stroke-linejoin="round"/>
<rect x="579.00" y="54.20" width="15.60" height="15.60" rx="1.6" fill="none" stroke="#000" stroke-width="5.2" stroke-linejoin="round"/>
<rect x="607.75" y="57.20" width="15.60" height="15.60" rx="1.6" fill="none" stroke="#000" stroke-width="5.2" stroke-linejoin="round"/>
<rect x="636.50" y="82.20" width="15.60" height="15.60" rx="1.6" fill="none" stroke="#000" stroke-width="5.2" stroke-linejoin="round"/>
<rect x="665.25" y="78.20" width="15.60" height="15.60" rx="1.6" fill="none" stroke="#000" stroke-width="5.2" stroke-linejoin="round"/>
<rect x="694.00" y="84.20" width="15.60" height="15.60" rx="1.6" fill="none" stroke="#000" stroke-width="5.2" stroke-linejoin="round"/>
<rect x="722.75" y="131.00" width="15.60" height="15.60" rx="1.6" fill="none" stroke="#000" stroke-width="5.2" stroke-linejoin="round"/>
<rect x="751.50" y="196.20" width="15.60" height="15.60" rx="1.6" fill="none" stroke="#000" stroke-width="5.2" stroke-linejoin="round"/>
<rect x="780.25" y="338.20" width="15.60" height="15.60" rx="1.6" fill="none" stroke="#000" stroke-width="5.2" stroke-linejoin="round"/>
<rect x="809.00" y="425.14" width="15.60" height="15.60" rx="1.6" fill="none" stroke="#000" stroke-width="5.2" stroke-linejoin="round"/>
<path d="M524.80,54.25 L533.79,54.25 L537.05,57.51 L537.05,66.50 L533.79,69.75 L524.80,69.75 L521.55,66.50 L521.55,57.51Z" fill="#000"/>
<circle cx="537.5" cy="62.0" r="2.6" fill="#000"/>
<circle cx="529.3" cy="70.0" r="2.6" fill="#000"/>
<path d="M553.55,54.25 L562.54,54.25 L565.80,57.51 L565.80,66.50 L562.54,69.75 L553.55,69.75 L550.30,66.50 L550.30,57.51Z" fill="#000"/>
<circle cx="566.3" cy="62.0" r="2.6" fill="#000"/>
<circle cx="558.0" cy="70.0" r="2.6" fill="#000"/>
<path d="M582.30,140.25 L591.29,140.25 L594.55,143.50 L594.55,152.50 L591.29,155.75 L582.30,155.75 L579.05,152.50 L579.05,143.50Z" fill="#000"/>
<circle cx="595.0" cy="148.0" r="2.6" fill="#000"/>
<circle cx="586.8" cy="156.1" r="2.6" fill="#000"/>
<path d="M611.05,80.25 L620.04,80.25 L623.30,83.50 L623.30,92.50 L620.04,95.75 L611.05,95.75 L607.80,92.50 L607.80,83.50Z" fill="#000"/>
<circle cx="623.8" cy="88.0" r="2.6" fill="#000"/>
<circle cx="615.5" cy="96.0" r="2.6" fill="#000"/>
<path d="M639.80,89.25 L648.79,89.25 L652.05,92.50 L652.05,101.50 L648.79,104.75 L639.80,104.75 L636.55,101.50 L636.55,92.50Z" fill="#000"/>
<circle cx="652.5" cy="97.0" r="2.6" fill="#000"/>
<circle cx="644.3" cy="105.0" r="2.6" fill="#000"/>
<path d="M668.55,86.25 L677.54,86.25 L680.80,89.50 L680.80,98.50 L677.54,101.75 L668.55,101.75 L665.30,98.50 L665.30,89.50Z" fill="#000"/>
<circle cx="681.3" cy="94.0" r="2.6" fill="#000"/>
<circle cx="673.0" cy="102.0" r="2.6" fill="#000"/>
<path d="M697.30,54.25 L706.29,54.25 L709.55,57.51 L709.55,66.50 L706.29,69.75 L697.30,69.75 L694.05,66.50 L694.05,57.51Z" fill="#000"/>
<circle cx="710.0" cy="62.0" r="2.6" fill="#000"/>
<circle cx="701.8" cy="70.0" r="2.6" fill="#000"/>
<path d="M726.05,109.75 L735.04,109.75 L738.30,113.00 L738.30,122.00 L735.04,125.25 L726.05,125.25 L722.80,122.00 L722.80,113.00Z" fill="#000"/>
<circle cx="738.8" cy="117.5" r="2.6" fill="#000"/>
<circle cx="730.5" cy="125.5" r="2.6" fill="#000"/>
<path d="M754.80,150.05 L763.79,150.05 L767.05,153.31 L767.05,162.30 L763.79,165.55 L754.80,165.55 L751.55,162.30 L751.55,153.31Z" fill="#000"/>
<circle cx="767.5" cy="157.8" r="2.6" fill="#000"/>
<circle cx="759.3" cy="165.9" r="2.6" fill="#000"/>
<path d="M783.55,359.87 L792.54,359.87 L795.80,363.12 L795.80,372.11 L792.54,375.37 L783.55,375.37 L780.30,372.11 L780.30,363.12Z" fill="#000"/>
<circle cx="796.3" cy="367.6" r="2.6" fill="#000"/>
<circle cx="788.0" cy="375.7" r="2.6" fill="#000"/>
<path d="M812.30,430.04 L821.29,430.04 L824.55,433.29 L824.55,442.28 L821.29,445.54 L812.30,445.54 L809.05,442.28 L809.05,433.29Z" fill="#000"/>
<circle cx="825.0" cy="437.8" r="2.6" fill="#000"/>
<circle cx="816.8" cy="445.8" r="2.6" fill="#000"/>
<path d="M529.30,75.50 L539.80,86.00 L529.30,96.50 L518.80,86.00Z" fill="#000"/>
<path d="M558.05,82.50 L568.55,93.00 L558.05,103.50 L547.55,93.00Z" fill="#000"/>
<path d="M586.80,75.50 L597.30,86.00 L586.80,96.50 L576.30,86.00Z" fill="#000"/>
<path d="M615.55,85.50 L626.05,96.00 L615.55,106.50 L605.05,96.00Z" fill="#000"/>
<path d="M644.30,56.50 L654.80,67.00 L644.30,77.50 L633.80,67.00Z" fill="#000"/>
<path d="M673.05,115.80 L683.55,126.30 L673.05,136.80 L662.55,126.30Z" fill="#000"/>
<path d="M701.80,157.30 L712.30,167.80 L701.80,178.30 L691.30,167.80Z" fill="#000"/>
<path d="M730.55,362.66 L741.05,373.16 L730.55,383.66 L720.05,373.16Z" fill="#000"/>
<path d="M759.30,428.35 L769.80,438.85 L759.30,449.35 L748.80,438.85Z" fill="#000"/>
<path d="M788.05,434.79 L798.55,445.29 L788.05,455.79 L777.55,445.29Z" fill="#000"/>
<path d="M816.80,435.30 L827.30,445.80 L816.80,456.30 L806.30,445.80Z" fill="#000"/>
<circle cx="529.3" cy="94.0" r="7.70" fill="none" stroke="#000" stroke-width="5.4"/>
<circle cx="558.0" cy="100.0" r="7.70" fill="none" stroke="#000" stroke-width="5.4"/>
<circle cx="586.8" cy="94.0" r="7.70" fill="none" stroke="#000" stroke-width="5.4"/>
<circle cx="615.5" cy="104.0" r="7.70" fill="none" stroke="#000" stroke-width="5.4"/>
<circle cx="644.3" cy="104.0" r="7.70" fill="none" stroke="#000" stroke-width="5.4"/>
<circle cx="673.0" cy="155.4" r="7.70" fill="none" stroke="#000" stroke-width="5.4"/>
<circle cx="701.8" cy="235.0" r="7.70" fill="none" stroke="#000" stroke-width="5.4"/>
<circle cx="730.5" cy="339.7" r="7.70" fill="none" stroke="#000" stroke-width="5.4"/>
<circle cx="759.3" cy="409.1" r="7.70" fill="none" stroke="#000" stroke-width="5.4"/>
<circle cx="788.0" cy="435.0" r="7.70" fill="none" stroke="#000" stroke-width="5.4"/>
<circle cx="816.8" cy="442.8" r="7.70" fill="none" stroke="#000" stroke-width="5.4"/>
<path d="M529.30,94.46 L535.75,107.37 L522.85,107.37Z" fill="none" stroke="#000" stroke-width="5" stroke-linejoin="miter"/>
<path d="M558.05,102.46 L564.50,115.37 L551.60,115.37Z" fill="none" stroke="#000" stroke-width="5" stroke-linejoin="miter"/>
<path d="M586.80,129.46 L593.25,142.37 L580.35,142.37Z" fill="none" stroke="#000" stroke-width="5" stroke-linejoin="miter"/>
<path d="M615.55,104.46 L622.00,117.37 L609.10,117.37Z" fill="none" stroke="#000" stroke-width="5" stroke-linejoin="miter"/>
<path d="M644.30,102.46 L650.75,115.37 L637.85,115.37Z" fill="none" stroke="#000" stroke-width="5" stroke-linejoin="miter"/>
<path d="M673.05,96.46 L679.50,109.37 L666.60,109.37Z" fill="none" stroke="#000" stroke-width="5" stroke-linejoin="miter"/>
<path d="M701.80,98.46 L708.25,111.37 L695.35,111.37Z" fill="none" stroke="#000" stroke-width="5" stroke-linejoin="miter"/>
<path d="M730.55,91.00 L737.00,103.91 L724.10,103.91Z" fill="none" stroke="#000" stroke-width="5" stroke-linejoin="miter"/>
<path d="M759.30,182.46 L765.75,195.37 L752.85,195.37Z" fill="none" stroke="#000" stroke-width="5" stroke-linejoin="miter"/>
<path d="M788.05,384.59 L794.50,397.50 L781.60,397.50Z" fill="none" stroke="#000" stroke-width="5" stroke-linejoin="miter"/>
<path d="M816.80,434.23 L823.25,447.14 L810.35,447.14Z" fill="none" stroke="#000" stroke-width="5" stroke-linejoin="miter"/>
<path d="M529.30,215.98 L521.30,199.98 L537.30,199.98Z" fill="#000"/>
<path d="M558.05,129.48 L550.05,113.48 L566.05,113.48Z" fill="#000"/>
<path d="M586.80,112.48 L578.80,96.48 L594.80,96.48Z" fill="#000"/>
<path d="M615.55,100.48 L607.55,84.48 L623.55,84.48Z" fill="#000"/>
<path d="M644.30,108.48 L636.30,92.48 L652.30,92.48Z" fill="#000"/>
<path d="M673.05,116.48 L665.05,100.48 L681.05,100.48Z" fill="#000"/>
<path d="M701.80,120.48 L693.80,104.48 L709.80,104.48Z" fill="#000"/>
<path d="M730.55,197.48 L722.55,181.48 L738.55,181.48Z" fill="#000"/>
<path d="M759.30,308.28 L751.30,292.28 L767.30,292.28Z" fill="#000"/>
<path d="M788.05,436.80 L780.05,420.80 L796.05,420.80Z" fill="#000"/>
<path d="M816.80,452.92 L808.80,436.92 L824.80,436.92Z" fill="#000"/>
<path d="M376.70,92.00 L377.37,92.00 L378.04,92.00 L378.71,92.00 L379.38,92.00 L380.06,92.01 L380.73,92.01 L381.40,92.01 L382.07,92.01 L382.74,92.01 L383.41,92.01 L384.08,92.01 L384.75,92.01 L385.42,92.02 L386.09,92.02 L386.76,92.02 L387.44,92.02 L388.11,92.02 L388.78,92.02 L389.45,92.03 L390.12,92.03 L390.79,92.03 L391.46,92.03 L392.13,92.03 L392.80,92.04 L393.47,92.04 L394.15,92.04 L394.82,92.05 L395.49,92.05 L396.16,92.05 L396.83,92.06 L397.50,92.06 L398.17,92.06 L398.84,92.07 L399.51,92.07 L400.19,92.08 L400.86,92.08 L401.53,92.08 L402.20,92.09 L402.87,92.10 L403.54,92.10 L404.21,92.11 L404.88,92.11 L405.55,92.12 L406.22,92.13 L406.89,92.13 L407.57,92.14 L408.24,92.15 L408.91,92.16 L409.58,92.17 L410.25,92.18 L410.92,92.19 L411.59,92.20 L412.26,92.21 L412.93,92.22 L413.60,92.23 L414.28,92.24 L414.95,92.26 L415.62,92.27 L416.29,92.28 L416.96,92.30 L417.63,92.32 L418.30,92.33 L418.97,92.35 L419.64,92.37 L420.31,92.39 L420.99,92.41 L421.66,92.43 L422.33,92.45 L423.00,92.48 L423.67,92.50 L424.34,92.53 L425.01,92.56 L425.68,92.58 L426.35,92.62 L427.02,92.65 L427.70,92.68 L428.37,92.72 L429.04,92.75 L429.71,92.79 L430.38,92.83 L431.05,92.88 L431.72,92.92 L432.39,92.97 L433.06,93.02 L433.73,93.07 L434.41,93.13 L435.08,93.19 L435.75,93.25 L436.42,93.31 L437.09,93.38 L437.76,93.45 L438.43,93.53 L439.10,93.60 L439.77,93.69 L440.44,93.77 L441.12,93.86 L441.79,93.96 L442.46,94.06 L443.13,94.17 L443.80,94.28 L444.47,94.39 L445.14,94.51 L445.81,94.64 L446.48,94.78 L447.16,94.92 L447.83,95.07 L448.50,95.22 L449.17,95.39 L449.84,95.56 L450.51,95.74 L451.18,95.93 L451.85,96.13 L452.52,96.34 L453.19,96.56 L453.87,96.79 L454.54,97.03 L455.21,97.28 L455.88,97.55 L456.55,97.83 L457.22,98.12 L457.89,98.43 L458.56,98.75 L459.23,99.09 L459.90,99.45 L460.57,99.82 L461.25,100.21 L461.92,100.62 L462.59,101.05 L463.26,101.50 L463.93,101.98 L464.60,102.47 L465.27,102.99 L465.94,103.53 L466.61,104.10 L467.28,104.70 L467.96,105.33 L468.63,105.98 L469.30,106.67 L469.97,107.38 L470.64,108.13 L471.31,108.92 L471.98,109.74 L472.65,110.60 L473.32,111.50 L474.00,112.44 L474.67,113.42 L475.34,114.45 L476.01,115.52 L476.68,116.64 L477.35,117.81 L478.02,119.02 L478.69,120.29 L479.36,121.62 L480.03,123.00 L480.70,124.44 L481.38,125.94 L482.05,127.50 L482.72,129.13 L483.39,130.82 L484.06,132.57 L484.73,134.40 L485.40,136.30 L486.07,138.26 L486.74,140.31 L487.41,142.42 L488.09,144.62 L488.76,146.89 L489.43,149.25 L490.10,151.68 L490.77,154.19 L491.44,156.79 L492.11,159.47 L492.78,162.24 L493.45,165.09 L494.12,168.02 L494.80,171.04 L495.47,174.15 L496.14,177.33 L496.81,180.61 L497.48,183.96 L498.15,187.40 L498.82,190.91 L499.49,194.51 L500.16,198.18 L500.83,201.92 L501.51,205.74 L502.18,209.63 L502.85,213.58 L503.52,217.59 L504.19,221.66 L504.86,225.79 L505.53,229.97 L506.20,234.20 L506.87,238.46 L507.55,242.77 L508.22,247.11 L508.89,251.47 L509.56,255.86 L510.23,260.26 L510.90,264.67 L511.57,269.10 L512.24,273.52 L512.91,277.93 L513.58,282.34 L514.25,286.73 L514.93,291.10 L515.60,295.44 L516.27,299.75 L516.94,304.03 L517.61,308.26 L518.28,312.45 L518.95,316.58 L519.62,320.67 L520.29,324.69 L520.97,328.66 L521.64,332.55 L522.31,336.38 L522.98,340.14 L523.65,343.82 L524.32,347.43 L524.99,350.96 L525.66,354.41 L526.33,357.78 L527.00,361.07 L527.67,364.27 L528.35,367.39 L529.02,370.43 L529.69,373.38 L530.36,376.24 L531.03,379.02 L531.70,381.72 L532.37,384.33 L533.04,386.86 L533.71,389.31 L534.38,391.68 L535.06,393.96 L535.73,396.17 L536.40,398.30 L537.07,400.36 L537.74,402.34 L538.41,404.25 L539.08,406.09 L539.75,407.86 L540.42,409.56 L541.10,411.20 L541.77,412.77 L542.44,414.28 L543.11,415.73 L543.78,417.12 L544.45,418.46 L545.12,419.74 L545.79,420.97 L546.46,422.14 L547.13,423.27 L547.80,424.35 L548.48,425.38 L549.15,426.37 L549.82,427.32 L550.49,428.23 L551.16,429.09 L551.83,429.92 L552.50,430.71 L553.17,431.47 L553.84,432.19 L554.51,432.88 L555.19,433.54 L555.86,434.17 L556.53,434.78 L557.20,435.35 L557.87,435.90 L558.54,436.42 L559.21,436.92 L559.88,437.40 L560.55,437.85 L561.23,438.29 L561.90,438.70 L562.57,439.10 L563.24,439.47 L563.91,439.83 L564.58,440.17 L565.25,440.50 L565.92,440.81 L566.59,441.10 L567.26,441.39 L567.93,441.65 L568.61,441.91 L569.28,442.15 L569.95,442.39 L570.62,442.61 L571.29,442.82 L571.96,443.02 L572.63,443.21 L573.30,443.39 L573.97,443.57 L574.64,443.73 L575.32,443.89 L575.99,444.04 L576.66,444.18 L577.33,444.32 L578.00,444.45" fill="none" stroke="#a900e6" stroke-width="3.6" stroke-linejoin="round"/>
<rect x="375.0" y="101.9" width="6" height="15" fill="#a900e6"/>
<rect x="403.5" y="56.2" width="6" height="15" fill="#a900e6"/>
<rect x="432.0" y="93.5" width="6" height="15" fill="#a900e6"/>
<rect x="462.9" y="113.5" width="6" height="15" fill="#a900e6"/>
<rect x="489.5" y="170.5" width="6" height="15" fill="#a900e6"/>
<rect x="518.4" y="324.8" width="6" height="15" fill="#a900e6"/>
<rect x="546.6" y="419.5" width="6" height="15" fill="#a900e6"/>
<rect x="574.8" y="441.0" width="6" height="15" fill="#a900e6"/>
<rect x="379.8" y="89.7" width="15" height="5" fill="#a900e6"/>
<rect x="399.0" y="69.5" width="15" height="5" fill="#a900e6"/>
<rect x="427.5" y="90.1" width="15" height="5" fill="#a900e6"/>
<rect x="458.4" y="109.5" width="15" height="5" fill="#a900e6"/>
<line x1="435" y1="92.6" x2="435" y2="101" stroke="#a900e6" stroke-width="5.5"/>
<path d="M215.10,84.31 L216.72,84.31 L218.35,84.31 L219.97,84.31 L221.59,84.31 L223.21,84.31 L224.84,84.31 L226.46,84.31 L228.08,84.31 L229.70,84.31 L231.33,84.31 L232.95,84.31 L234.57,84.31 L236.19,84.31 L237.82,84.31 L239.44,84.31 L241.06,84.31 L242.69,84.31 L244.31,84.31 L245.93,84.31 L247.55,84.31 L249.18,84.31 L250.80,84.31 L252.42,84.31 L254.04,84.31 L255.67,84.31 L257.29,84.31 L258.91,84.31 L260.53,84.31 L262.16,84.31 L263.78,84.31 L265.40,84.31 L267.03,84.31 L268.65,84.31 L270.27,84.31 L271.89,84.31 L273.52,84.31 L275.14,84.31 L276.76,84.31 L278.38,84.31 L280.01,84.31 L281.63,84.31 L283.25,84.31 L284.87,84.31 L286.50,84.31 L288.12,84.31 L289.74,84.31 L291.37,84.31 L292.99,84.31 L294.61,84.31 L296.23,84.31 L297.86,84.31 L299.48,84.31 L301.10,84.31 L302.72,84.31 L304.35,84.31 L305.97,84.31 L307.59,84.31 L309.21,84.31 L310.84,84.31 L312.46,84.31 L314.08,84.31 L315.71,84.31 L317.33,84.31 L318.95,84.31 L320.57,84.31 L322.20,84.31 L323.82,84.31 L325.44,84.31 L327.06,84.31 L328.69,84.31 L330.31,84.31 L331.93,84.31 L333.55,84.31 L335.18,84.31 L336.80,84.31 L338.42,84.31 L340.05,84.31 L341.67,84.31 L343.29,84.31 L344.91,84.31 L346.54,84.31 L348.16,84.31 L349.78,84.31 L351.40,84.31 L353.03,84.31 L354.65,84.31 L356.27,84.31 L357.89,84.31 L359.52,84.31 L361.14,84.31 L362.76,84.31 L364.39,84.31 L366.01,84.31 L367.63,84.31 L369.25,84.31 L370.88,84.31 L372.50,84.31 L374.12,84.31 L375.74,84.31 L377.37,84.31 L378.99,84.31 L380.61,84.31 L382.23,84.31 L383.86,84.31 L385.48,84.31 L387.10,84.32 L388.73,84.32 L390.35,84.32 L391.97,84.32 L393.59,84.32 L395.22,84.32 L396.84,84.33 L398.46,84.33 L400.08,84.33 L401.71,84.34 L403.33,84.34 L404.95,84.35 L406.57,84.36 L408.20,84.36 L409.82,84.37 L411.44,84.39 L413.07,84.40 L414.69,84.42 L416.31,84.44 L417.93,84.46 L419.56,84.49 L421.18,84.52 L422.80,84.56 L424.42,84.61 L426.05,84.67 L427.67,84.73 L429.29,84.81 L430.91,84.91 L432.54,85.02 L434.16,85.15 L435.78,85.30 L437.41,85.48 L439.03,85.70 L440.65,85.96 L442.27,86.26 L443.90,86.62 L445.52,87.05 L447.14,87.55 L448.76,88.14 L450.39,88.85 L452.01,89.67 L453.63,90.65 L455.25,91.80 L456.88,93.15 L458.50,94.74 L460.12,96.61 L461.75,98.80 L463.37,101.35 L464.99,104.33 L466.61,107.80 L468.24,111.82 L469.86,116.46 L471.48,121.80 L473.10,127.90 L474.73,134.84 L476.35,142.68 L477.97,151.47 L479.59,161.25 L481.22,172.02 L482.84,183.78 L484.46,196.46 L486.09,209.97 L487.71,224.20 L489.33,238.96 L490.95,254.09 L492.58,269.35 L494.20,284.54 L495.82,299.45 L497.44,313.86 L499.07,327.61 L500.69,340.57 L502.31,352.62 L503.93,363.71 L505.56,373.80 L507.18,382.90 L508.80,391.03 L510.43,398.25 L512.05,404.61 L513.67,410.18 L515.29,415.03 L516.92,419.24 L518.54,422.87 L520.16,426.00 L521.78,428.68 L523.41,430.98 L525.03,432.94 L526.65,434.61 L528.27,436.04 L529.90,437.25 L531.52,438.28 L533.14,439.15 L534.77,439.89 L536.39,440.51 L538.01,441.04 L539.63,441.49 L541.26,441.87 L542.88,442.19 L544.50,442.46 L546.12,442.69 L547.75,442.88 L549.37,443.05 L550.99,443.18 L552.61,443.30 L554.24,443.40 L555.86,443.48 L557.48,443.55 L559.11,443.61 L560.73,443.66 L562.35,443.70 L563.97,443.74 L565.60,443.77 L567.22,443.79 L568.84,443.81 L570.46,443.83 L572.09,443.85 L573.71,443.86 L575.33,443.87 L576.95,443.88 L578.58,443.89 L580.20,443.89 L581.82,443.90 L583.45,443.90 L585.07,443.91 L586.69,443.91 L588.31,443.91 L589.94,443.92 L591.56,443.92 L593.18,443.92 L594.80,443.92 L596.43,443.92 L598.05,443.92 L599.67,443.93 L601.29,443.93 L602.92,443.93 L604.54,443.93 L606.16,443.93 L607.79,443.93 L609.41,443.93 L611.03,443.93 L612.65,443.93 L614.28,443.93 L615.90,443.93 L617.52,443.93 L619.14,443.93 L620.77,443.93 L622.39,443.93 L624.01,443.93 L625.63,443.93 L627.26,443.93 L628.88,443.93 L630.50,443.93 L632.13,443.93 L633.75,443.93 L635.37,443.93 L636.99,443.93 L638.62,443.93 L640.24,443.93 L641.86,443.93 L643.48,443.93 L645.11,443.93 L646.73,443.93 L648.35,443.93 L649.97,443.93 L651.60,443.93 L653.22,443.93 L654.84,443.93 L656.47,443.93 L658.09,443.93 L659.71,443.93 L661.33,443.93 L662.96,443.93 L664.58,443.93 L666.20,443.93 L667.82,443.93 L669.45,443.93 L671.07,443.93 L672.69,443.93 L674.31,443.93 L675.94,443.93 L677.56,443.93 L679.18,443.93 L680.81,443.93 L682.43,443.93 L684.05,443.93 L685.67,443.93 L687.30,443.93 L688.92,443.93 L690.54,443.93 L692.16,443.93 L693.79,443.93 L695.41,443.93 L697.03,443.93 L698.65,443.93 L700.28,443.93 L701.90,443.93" fill="none" stroke="#ff0000" stroke-width="3.6" stroke-linejoin="round"/>
<line x1="215.1" y1="79.2" x2="215.1" y2="106.4" stroke="#ff0000" stroke-width="5.5"/>
<rect x="207.6" y="76.7" width="15" height="5" fill="#ff0000"/>
<rect x="207.6" y="103.9" width="15" height="5" fill="#ff0000"/>
<line x1="244.0" y1="80.5" x2="244.0" y2="98.3" stroke="#ff0000" stroke-width="5.5"/>
<rect x="236.5" y="78.0" width="15" height="5" fill="#ff0000"/>
<rect x="236.5" y="95.8" width="15" height="5" fill="#ff0000"/>
<line x1="272.4" y1="95.4" x2="272.4" y2="116.3" stroke="#ff0000" stroke-width="5.5"/>
<rect x="264.9" y="92.9" width="15" height="5" fill="#ff0000"/>
<rect x="264.9" y="113.8" width="15" height="5" fill="#ff0000"/>
<line x1="301.0" y1="65.7" x2="301.0" y2="93.4" stroke="#ff0000" stroke-width="5.5"/>
<rect x="293.5" y="63.2" width="15" height="5" fill="#ff0000"/>
<rect x="293.5" y="90.9" width="15" height="5" fill="#ff0000"/>
<line x1="329.8" y1="97.5" x2="329.8" y2="105.8" stroke="#ff0000" stroke-width="5.5"/>
<rect x="322.3" y="95.0" width="15" height="5" fill="#ff0000"/>
<rect x="322.3" y="103.3" width="15" height="5" fill="#ff0000"/>
<line x1="358.5" y1="79.2" x2="358.5" y2="111.4" stroke="#ff0000" stroke-width="5.5"/>
<rect x="351.0" y="76.7" width="15" height="5" fill="#ff0000"/>
<rect x="351.0" y="108.9" width="15" height="5" fill="#ff0000"/>
<line x1="387.2" y1="61.0" x2="387.2" y2="86.8" stroke="#ff0000" stroke-width="5.5"/>
<rect x="379.7" y="84.3" width="15" height="5" fill="#ff0000"/>
<line x1="416.2" y1="61.0" x2="416.2" y2="86.4" stroke="#ff0000" stroke-width="5.5"/>
<rect x="408.7" y="83.9" width="15" height="5" fill="#ff0000"/>
<line x1="444.3" y1="61.0" x2="444.3" y2="90.0" stroke="#ff0000" stroke-width="5.5"/>
<rect x="436.8" y="87.5" width="15" height="5" fill="#ff0000"/>
<line x1="473.2" y1="98.3" x2="473.2" y2="155.0" stroke="#ff0000" stroke-width="5.5"/>
<rect x="465.7" y="95.8" width="15" height="5" fill="#ff0000"/>
<rect x="465.7" y="152.5" width="15" height="5" fill="#ff0000"/>
<circle cx="215.1" cy="92.7" r="7.80" fill="#ff0000"/>
<circle cx="244.0" cy="89.4" r="7.80" fill="#ff0000"/>
<circle cx="272.4" cy="105.2" r="7.80" fill="#ff0000"/>
<circle cx="301.0" cy="78.4" r="7.80" fill="#ff0000"/>
<circle cx="329.8" cy="97.5" r="7.80" fill="#ff0000"/>
<circle cx="358.5" cy="95.2" r="7.80" fill="#ff0000"/>
<circle cx="387.2" cy="69.8" r="7.80" fill="#ff0000"/>
<circle cx="416.2" cy="63.5" r="7.80" fill="#ff0000"/>
<circle cx="444.3" cy="68.1" r="7.80" fill="#ff0000"/>
<circle cx="473.2" cy="125.5" r="7.80" fill="#ff0000"/>
<circle cx="501.4" cy="344.0" r="7.80" fill="#ff0000"/>
<circle cx="529.5" cy="445.5" r="7.80" fill="#ff0000"/>
<circle cx="558.0" cy="444.5" r="7.80" fill="#ff0000"/>
<circle cx="587.0" cy="443.0" r="7.80" fill="#ff0000"/>
<circle cx="616.0" cy="444.0" r="7.80" fill="#ff0000"/>
<circle cx="644.5" cy="444.0" r="7.80" fill="#ff0000"/>
<circle cx="673.0" cy="440.0" r="7.80" fill="#ff0000"/>
<circle cx="702.0" cy="440.0" r="7.80" fill="#ff0000"/>
<path d="M473.40,85.46 L473.59,85.46 L473.78,85.46 L473.98,85.46 L474.17,85.46 L474.36,85.46 L474.55,85.46 L474.74,85.46 L474.94,85.46 L475.13,85.46 L475.32,85.46 L475.51,85.46 L475.70,85.46 L475.90,85.46 L476.09,85.46 L476.28,85.46 L476.47,85.46 L476.66,85.46 L476.86,85.46 L477.05,85.46 L477.24,85.46 L477.43,85.46 L477.62,85.46 L477.82,85.46 L478.01,85.46 L478.20,85.46 L478.39,85.46 L478.58,85.46 L478.78,85.46 L478.97,85.46 L479.16,85.46 L479.35,85.46 L479.54,85.46 L479.74,85.46 L479.93,85.46 L480.12,85.46 L480.31,85.46 L480.50,85.46 L480.70,85.46 L480.89,85.46 L481.08,85.46 L481.27,85.46 L481.46,85.46 L481.66,85.46 L481.85,85.46 L482.04,85.46 L482.23,85.46 L482.42,85.46 L482.62,85.46 L482.81,85.46 L483.00,85.46 L483.19,85.46 L483.38,85.46 L483.58,85.46 L483.77,85.46 L483.96,85.46 L484.15,85.46 L484.34,85.46 L484.54,85.46 L484.73,85.46 L484.92,85.46 L485.11,85.46 L485.30,85.46 L485.50,85.46 L485.69,85.46 L485.88,85.46 L486.07,85.46 L486.26,85.46 L486.46,85.46 L486.65,85.46 L486.84,85.46 L487.03,85.46 L487.22,85.46 L487.42,85.46 L487.61,85.46 L487.80,85.46 L487.99,85.46 L488.18,85.46 L488.38,85.46 L488.57,85.46 L488.76,85.46 L488.95,85.46 L489.14,85.46 L489.34,85.46 L489.53,85.46 L489.72,85.46 L489.91,85.46 L490.10,85.46 L490.30,85.46 L490.49,85.46 L490.68,85.46 L490.87,85.46 L491.06,85.46 L491.26,85.46 L491.45,85.46 L491.64,85.46 L491.83,85.46 L492.02,85.46 L492.22,85.46 L492.41,85.46 L492.60,85.46 L492.79,85.46 L492.98,85.46 L493.18,85.46 L493.37,85.46 L493.56,85.46 L493.75,85.46 L493.94,85.46 L494.14,85.46 L494.33,85.46 L494.52,85.46 L494.71,85.46 L494.90,85.46 L495.10,85.46 L495.29,85.46 L495.48,85.46 L495.67,85.46 L495.86,85.46 L496.06,85.46 L496.25,85.46 L496.44,85.46 L496.63,85.46 L496.82,85.46 L497.02,85.46 L497.21,85.46 L497.40,85.46 L497.59,85.46 L497.78,85.46 L497.98,85.46 L498.17,85.46 L498.36,85.46 L498.55,85.46 L498.74,85.46 L498.94,85.46 L499.13,85.46 L499.32,85.46 L499.51,85.46 L499.70,85.46 L499.90,85.46 L500.09,85.46 L500.28,85.46 L500.47,85.46 L500.66,85.46 L500.86,85.46 L501.05,85.46 L501.24,85.46 L501.43,85.46 L501.62,85.46 L501.82,85.46 L502.01,85.46 L502.20,85.46 L502.39,85.46 L502.58,85.46 L502.78,85.46 L502.97,85.46 L503.16,85.46 L503.35,85.46 L503.54,85.46 L503.74,85.46 L503.93,85.46 L504.12,85.46 L504.31,85.46 L504.50,85.46 L504.70,85.46 L504.89,85.46 L505.08,85.46 L505.27,85.46 L505.46,85.46 L505.66,85.46 L505.85,85.46 L506.04,85.46 L506.23,85.46 L506.42,85.46 L506.62,85.46 L506.81,85.46 L507.00,85.46 L507.19,85.46 L507.38,85.46 L507.58,85.46 L507.77,85.46 L507.96,85.46 L508.15,85.46 L508.34,85.46 L508.54,85.46 L508.73,85.46 L508.92,85.46 L509.11,85.46 L509.30,85.46 L509.50,85.46 L509.69,85.46 L509.88,85.46 L510.07,85.46 L510.26,85.46 L510.46,85.46 L510.65,85.46 L510.84,85.46 L511.03,85.46 L511.22,85.46 L511.42,85.46 L511.61,85.46 L511.80,85.46 L511.99,85.46 L512.18,85.46 L512.38,85.46 L512.57,85.46 L512.76,85.46 L512.95,85.46 L513.14,85.46 L513.34,85.46 L513.53,85.46 L513.72,85.46 L513.91,85.46 L514.10,85.46 L514.30,85.46 L514.49,85.46 L514.68,85.46 L514.87,85.46 L515.06,85.46 L515.26,85.46 L515.45,85.46 L515.64,85.46 L515.83,85.46 L516.02,85.46 L516.22,85.46 L516.41,85.46 L516.60,85.46 L516.79,85.46 L516.98,85.46 L517.18,85.46 L517.37,85.46 L517.56,85.46 L517.75,85.46 L517.94,85.46 L518.14,85.46 L518.33,85.46 L518.52,85.46 L518.71,85.46 L518.90,85.46 L519.10,85.46 L519.29,85.46 L519.48,85.46 L519.67,85.46 L519.86,85.46 L520.06,85.47 L520.25,85.47 L520.44,85.47 L520.63,85.47 L520.82,85.47 L521.02,85.47 L521.21,85.47 L521.40,85.47 L521.59,85.47 L521.78,85.47 L521.98,85.47 L522.17,85.47 L522.36,85.47 L522.55,85.47 L522.74,85.47 L522.94,85.47 L523.13,85.47 L523.32,85.47 L523.51,85.47 L523.70,85.47 L523.90,85.47 L524.09,85.47 L524.28,85.47 L524.47,85.47 L524.66,85.47 L524.86,85.47 L525.05,85.47 L525.24,85.47 L525.43,85.47 L525.62,85.47 L525.82,85.47 L526.01,85.47 L526.20,85.47 L526.39,85.47 L526.58,85.47 L526.78,85.47 L526.97,85.47 L527.16,85.47 L527.35,85.47 L527.54,85.47 L527.74,85.47 L527.93,85.47 L528.12,85.47 L528.31,85.47 L528.50,85.47 L528.70,85.47 L528.89,85.47 L529.08,85.47 L529.27,85.47 L529.46,85.47 L529.66,85.47 L529.85,85.47 L530.04,85.47 L530.23,85.47 L530.42,85.48 L530.62,85.48 L530.81,85.48 L531.00,85.48" fill="none" stroke="#0000ff" stroke-width="3.6" stroke-linejoin="round"/>
<path d="M578.00,88.31 L578.60,88.51 L579.21,88.72 L579.81,88.94 L580.41,89.18 L581.02,89.43 L581.62,89.71 L582.22,90.00 L582.83,90.30 L583.43,90.63 L584.03,90.99 L584.64,91.36 L585.24,91.76 L585.84,92.19 L586.45,92.65 L587.05,93.13 L587.65,93.65 L588.26,94.20 L588.86,94.79 L589.46,95.42 L590.07,96.09 L590.67,96.80 L591.27,97.56 L591.88,98.36 L592.48,99.22 L593.08,100.13 L593.69,101.10 L594.29,102.13 L594.89,103.23 L595.50,104.39 L596.10,105.63 L596.70,106.94 L597.31,108.33 L597.91,109.80 L598.51,111.36 L599.12,113.01 L599.72,114.76 L600.32,116.61 L600.93,118.57 L601.53,120.63 L602.13,122.81 L602.74,125.11 L603.34,127.53 L603.94,130.08 L604.55,132.75 L605.15,135.57 L605.75,138.52 L606.36,141.61 L606.96,144.85 L607.56,148.24 L608.17,151.78 L608.77,155.47 L609.37,159.32 L609.98,163.32 L610.58,167.47 L611.18,171.78 L611.79,176.24 L612.39,180.85 L612.99,185.61 L613.60,190.51 L614.20,195.55 L614.80,200.72 L615.41,206.01 L616.01,211.43 L616.61,216.95 L617.22,222.57 L617.82,228.29 L618.42,234.08 L619.03,239.94 L619.63,245.85 L620.23,251.81 L620.84,257.80 L621.44,263.80 L622.04,269.81 L622.65,275.81 L623.25,281.78 L623.85,287.72 L624.46,293.61 L625.06,299.44 L625.66,305.19 L626.27,310.86 L626.87,316.43 L627.47,321.90 L628.08,327.25 L628.68,332.49 L629.28,337.59 L629.89,342.56 L630.49,347.39 L631.09,352.07 L631.70,356.60 L632.30,360.98 L632.90,365.21 L633.51,369.29 L634.11,373.21 L634.71,376.98 L635.32,380.59 L635.92,384.05 L636.52,387.36 L637.13,390.53 L637.73,393.55 L638.33,396.43 L638.94,399.18 L639.54,401.79 L640.14,404.27 L640.75,406.62 L641.35,408.86 L641.95,410.98 L642.56,412.99 L643.16,414.89 L643.76,416.69 L644.37,418.39 L644.97,419.99 L645.57,421.51 L646.18,422.94 L646.78,424.29 L647.38,425.56 L647.99,426.75 L648.59,427.88 L649.19,428.94 L649.80,429.94 L650.40,430.88 L651.00,431.77 L651.61,432.60 L652.21,433.38 L652.81,434.11 L653.42,434.80 L654.02,435.45 L654.62,436.06 L655.23,436.63 L655.83,437.16 L656.43,437.66 L657.04,438.13 L657.64,438.57 L658.24,438.99 L658.85,439.37 L659.45,439.74 L660.05,440.08 L660.66,440.40 L661.26,440.70 L661.86,440.98 L662.47,441.24 L663.07,441.49 L663.67,441.72 L664.28,441.93 L664.88,442.13 L665.48,442.32 L666.09,442.50 L666.69,442.67 L667.29,442.82 L667.90,442.97 L668.50,443.10 L669.10,443.23 L669.71,443.35 L670.31,443.46 L670.91,443.56 L671.52,443.66 L672.12,443.75 L672.72,443.84 L673.33,443.92 L673.93,443.99 L674.53,444.06 L675.14,444.13 L675.74,444.19 L676.34,444.25 L676.95,444.30 L677.55,444.35 L678.15,444.40 L678.76,444.44 L679.36,444.48 L679.96,444.52 L680.57,444.56 L681.17,444.59 L681.77,444.62 L682.38,444.65 L682.98,444.68 L683.58,444.71 L684.19,444.73 L684.79,444.75 L685.39,444.77 L686.00,444.79 L686.60,444.81 L687.20,444.83 L687.81,444.85 L688.41,444.86 L689.01,444.88 L689.62,444.89 L690.22,444.90 L690.82,444.91 L691.43,444.92 L692.03,444.93 L692.63,444.94 L693.24,444.95 L693.84,444.96 L694.44,444.97 L695.05,444.98 L695.65,444.98 L696.25,444.99 L696.86,444.99 L697.46,445.00 L698.06,445.01 L698.67,445.01 L699.27,445.02 L699.87,445.02 L700.48,445.02 L701.08,445.03 L701.68,445.03 L702.29,445.03 L702.89,445.04 L703.49,445.04 L704.10,445.04 L704.70,445.04 L705.30,445.05 L705.91,445.05 L706.51,445.05 L707.11,445.05 L707.72,445.06 L708.32,445.06 L708.92,445.06 L709.53,445.06 L710.13,445.06 L710.73,445.06 L711.34,445.06 L711.94,445.06 L712.54,445.07 L713.15,445.07 L713.75,445.07 L714.35,445.07 L714.96,445.07 L715.56,445.07 L716.16,445.07 L716.77,445.07 L717.37,445.07 L717.97,445.07 L718.58,445.07 L719.18,445.07 L719.78,445.07 L720.39,445.07 L720.99,445.08 L721.59,445.08 L722.20,445.08 L722.80,445.08 L723.40,445.08 L724.01,445.08 L724.61,445.08 L725.21,445.08 L725.82,445.08 L726.42,445.08 L727.02,445.08 L727.63,445.08 L728.23,445.08 L728.83,445.08 L729.44,445.08 L730.04,445.08 L730.64,445.08 L731.25,445.08 L731.85,445.08 L732.45,445.08 L733.06,445.08 L733.66,445.08 L734.26,445.08 L734.87,445.08 L735.47,445.08 L736.07,445.08 L736.68,445.08 L737.28,445.08 L737.88,445.08 L738.49,445.08 L739.09,445.08 L739.69,445.08 L740.30,445.08 L740.90,445.08 L741.50,445.08 L742.11,445.08 L742.71,445.08 L743.31,445.08 L743.92,445.08 L744.52,445.08 L745.12,445.08 L745.73,445.08 L746.33,445.08 L746.93,445.08 L747.54,445.08 L748.14,445.08 L748.74,445.08 L749.35,445.08 L749.95,445.08 L750.55,445.08 L751.16,445.08 L751.76,445.08 L752.36,445.08 L752.97,445.08 L753.57,445.08 L754.17,445.08 L754.78,445.08 L755.38,445.08 L755.98,445.08 L756.59,445.08 L757.19,445.08 L757.79,445.08 L758.40,445.08 L759.00,445.08" fill="none" stroke="#0000ff" stroke-width="3.6" stroke-linejoin="round"/>
<line x1="473.4" y1="89.0" x2="473.4" y2="125.0" stroke="#0000ff" stroke-width="5.5"/>
<rect x="465.9" y="86.5" width="15" height="5" fill="#0000ff"/>
<rect x="465.9" y="122.5" width="15" height="5" fill="#0000ff"/>
<line x1="501.0" y1="61.0" x2="501.0" y2="96.0" stroke="#0000ff" stroke-width="5.5"/>
<rect x="493.5" y="93.5" width="15" height="5" fill="#0000ff"/>
<line x1="616.0" y1="182.0" x2="616.0" y2="243.6" stroke="#0000ff" stroke-width="5.5"/>
<rect x="608.5" y="179.5" width="15" height="5" fill="#0000ff"/>
<rect x="608.5" y="241.1" width="15" height="5" fill="#0000ff"/>
<line x1="644.3" y1="415.0" x2="644.3" y2="428.0" stroke="#0000ff" stroke-width="5.5"/>
<rect x="636.8" y="412.5" width="15" height="5" fill="#0000ff"/>
<rect x="636.8" y="425.5" width="15" height="5" fill="#0000ff"/>
<line x1="673.0" y1="441.0" x2="673.0" y2="449.0" stroke="#0000ff" stroke-width="5.5"/>
<rect x="665.5" y="438.5" width="15" height="5" fill="#0000ff"/>
<rect x="665.5" y="446.5" width="15" height="5" fill="#0000ff"/>
<line x1="702.0" y1="441.0" x2="702.0" y2="449.0" stroke="#0000ff" stroke-width="5.5"/>
<rect x="694.5" y="438.5" width="15" height="5" fill="#0000ff"/>
<rect x="694.5" y="446.5" width="15" height="5" fill="#0000ff"/>
<line x1="730.5" y1="441.0" x2="730.5" y2="449.0" stroke="#0000ff" stroke-width="5.5"/>
<rect x="723.0" y="438.5" width="15" height="5" fill="#0000ff"/>
<rect x="723.0" y="446.5" width="15" height="5" fill="#0000ff"/>
<line x1="759.0" y1="441.0" x2="759.0" y2="449.0" stroke="#0000ff" stroke-width="5.5"/>
<rect x="751.5" y="438.5" width="15" height="5" fill="#0000ff"/>
<rect x="751.5" y="446.5" width="15" height="5" fill="#0000ff"/>
<rect x="465.90" y="99.50" width="15.00" height="15.00" fill="#0000ff"/>
<rect x="493.50" y="55.80" width="15.00" height="15.00" fill="#0000ff"/>
<rect x="608.50" y="205.50" width="15.00" height="15.00" fill="#0000ff"/>
<rect x="636.80" y="413.80" width="15.00" height="15.00" fill="#0000ff"/>
<rect x="665.50" y="437.50" width="15.00" height="15.00" fill="#0000ff"/>
<rect x="694.50" y="437.50" width="15.00" height="15.00" fill="#0000ff"/>
<rect x="723.00" y="437.50" width="15.00" height="15.00" fill="#0000ff"/>
<rect x="751.50" y="437.50" width="15.00" height="15.00" fill="#0000ff"/>
<path d="M730.50,434.79 L738.25,450.29 L722.75,450.29Z" fill="#058505"/>
<path d="M759.00,435.79 L766.75,451.29 L751.25,451.29Z" fill="#058505"/>
<circle cx="991.5" cy="42.1" r="8.15" fill="#ff0000"/>
<text x="1034.6" y="52.1" font-size="27" font-weight="normal" text-anchor="start" fill="#000" textLength="142" lengthAdjust="spacingAndGlyphs" >Bortezomib</text>
<rect x="988.5" y="76.9" width="6" height="15" fill="#a900e6"/>
<text x="1034.6" y="94.4" font-size="27" font-weight="normal" text-anchor="start" fill="#000" >Panovinostat</text>
<rect x="983.10" y="123.50" width="16.80" height="16.80" fill="#0000ff"/>
<text x="1034.6" y="141.9" font-size="27" font-weight="normal" text-anchor="start" fill="#000" textLength="181" lengthAdjust="spacingAndGlyphs" >Z-leu-leu-leu-H</text>
<path d="M991.50,167.62 L999.60,183.62 L983.40,183.62Z" fill="#058505"/>
<text x="1034.6" y="185.9" font-size="27" font-weight="normal" text-anchor="start" fill="#000" textLength="73.2" lengthAdjust="spacingAndGlyphs" >SAHA</text>
<path d="M991.50,224.72 L983.40,209.22 L999.60,209.22Z" fill="#000"/>
<text x="1034.6" y="226.1" font-size="27" font-weight="normal" text-anchor="start" fill="#000" textLength="75.1" lengthAdjust="spacingAndGlyphs" >SBHA</text>
<path d="M991.50,251.30 L1001.50,260.80 L991.50,270.30 L981.50,260.80Z" fill="#000"/>
<text x="1034.6" y="270.2" font-size="27" font-weight="normal" text-anchor="start" fill="#000" textLength="153" lengthAdjust="spacingAndGlyphs" >BAY11-7082</text>
<circle cx="991.5" cy="304.1" r="7.70" fill="none" stroke="#000" stroke-width="5.4"/>
<text x="1034.6" y="314.1" font-size="27" font-weight="normal" text-anchor="start" fill="#000" textLength="176" lengthAdjust="spacingAndGlyphs" >PI3Ka inhibitor</text>
<rect x="983.70" y="340.50" width="15.60" height="15.60" rx="1.6" fill="none" stroke="#000" stroke-width="5.2" stroke-linejoin="round"/>
<text x="1034.6" y="358.6" font-size="27" font-weight="normal" text-anchor="start" fill="#000" textLength="354" lengthAdjust="spacingAndGlyphs" >PDK1t dual pathway inhibitor</text>
<path d="M991.50,388.18 L997.90,399.72 L985.10,399.72Z" fill="none" stroke="#000" stroke-width="5" stroke-linejoin="miter"/>
<text x="1034.6" y="403.4" font-size="27" font-weight="normal" text-anchor="start" fill="#000" textLength="82.3" lengthAdjust="spacingAndGlyphs" >AG490</text>
<path d="M991.50,442.21 L984.95,429.47 L998.05,429.47Z" fill="none" stroke="#000" stroke-width="5" stroke-linejoin="miter"/>
<text x="1034.6" y="447.0" font-size="27" font-weight="normal" text-anchor="start" fill="#000" textLength="88.4" lengthAdjust="spacingAndGlyphs" >411361</text>
<path d="M991.50,472.54 L1000.41,481.20 L991.50,489.86 L982.59,481.20Z" fill="none" stroke="#000" stroke-width="5" stroke-linejoin="miter"/>
<text x="1034.6" y="490.8" font-size="27" font-weight="normal" text-anchor="start" fill="#000" textLength="132.3" lengthAdjust="spacingAndGlyphs" >LY-294002</text>
<path d="M987.09,517.10 L995.91,517.10 L999.10,520.29 L999.10,529.11 L995.91,532.30 L987.09,532.30 L983.90,529.11 L983.90,520.29Z" fill="#000"/>
<circle cx="999.6" cy="524.7" r="2.6" fill="#000"/>
<circle cx="991.5" cy="532.6" r="2.6" fill="#000"/>
<text x="1034.6" y="534.4" font-size="27" font-weight="normal" text-anchor="start" fill="#000" textLength="122.5" lengthAdjust="spacingAndGlyphs" >Melphalan</text>
<g stroke="#000" stroke-width="5.2" fill="none">
<path d="M154.8,608 V971.5 H686"/>
<path d="M145.3,971.5 H155"/>
<path d="M145.3,821.0 H155"/>
<path d="M145.3,670.5 H155"/>
<path d="M154.6,971.5 V981.5"/>
<path d="M260.4,971.5 V981.5"/>
<path d="M366.2,971.5 V981.5"/>
<path d="M472.0,971.5 V981.5"/>
<path d="M577.8,971.5 V981.5"/>
<path d="M683.6,971.5 V981.5"/>
</g>
<text transform="translate(139.60,980.10) scale(0.95,1.1)" font-size="27" font-weight="bold" text-anchor="end">0.0</text>
<text transform="translate(139.60,829.60) scale(0.95,1.1)" font-size="27" font-weight="bold" text-anchor="end">0.5</text>
<text transform="translate(139.60,679.10) scale(0.95,1.1)" font-size="27" font-weight="bold" text-anchor="end">1.0</text>
<text transform="translate(153.90,1011.00) scale(1.0,1.12)" font-size="25.5" font-weight="bold" text-anchor="middle">0.0</text>
<text transform="translate(259.80,1011.00) scale(1.0,1.12)" font-size="25.5" font-weight="bold" text-anchor="middle">0.5</text>
<text transform="translate(365.90,1011.00) scale(1.0,1.12)" font-size="25.5" font-weight="bold" text-anchor="middle">1.0</text>
<text transform="translate(471.40,1011.00) scale(1.0,1.12)" font-size="25.5" font-weight="bold" text-anchor="middle">1.5</text>
<text transform="translate(577.50,1011.00) scale(1.0,1.12)" font-size="25.5" font-weight="bold" text-anchor="middle">2.0</text>
<text transform="translate(681.20,1011.00) scale(1.0,1.12)" font-size="25.5" font-weight="bold" text-anchor="middle">2.5</text>
<text transform="translate(79.4,784.5) rotate(-90)" font-size="31.5" font-weight="bold" text-anchor="middle" textLength="364" lengthAdjust="spacingAndGlyphs">Absorbance value of XTT</text>
<text x="232.3" y="1073.3" font-size="30" font-weight="bold" textLength="385.5" lengthAdjust="spacingAndGlyphs" xml:space="preserve">Bortezomib  log[dose], nM</text>
<path d="M260.40,678.51 L262.30,678.53 L264.21,678.54 L266.11,678.56 L268.02,678.59 L269.92,678.61 L271.83,678.63 L273.73,678.66 L275.64,678.69 L277.54,678.72 L279.44,678.76 L281.35,678.79 L283.25,678.83 L285.16,678.88 L287.06,678.93 L288.97,678.98 L290.87,679.04 L292.77,679.10 L294.68,679.17 L296.58,679.24 L298.49,679.32 L300.39,679.41 L302.30,679.50 L304.20,679.61 L306.11,679.72 L308.01,679.84 L309.91,679.97 L311.82,680.12 L313.72,680.27 L315.63,680.45 L317.53,680.63 L319.44,680.83 L321.34,681.05 L323.25,681.29 L325.15,681.54 L327.05,681.82 L328.96,682.13 L330.86,682.45 L332.77,682.81 L334.67,683.20 L336.58,683.62 L338.48,684.07 L340.38,684.57 L342.29,685.10 L344.19,685.68 L346.10,686.31 L348.00,686.99 L349.91,687.72 L351.81,688.51 L353.72,689.37 L355.62,690.30 L357.52,691.30 L359.43,692.38 L361.33,693.54 L363.24,694.80 L365.14,696.15 L367.05,697.60 L368.95,699.15 L370.86,700.83 L372.76,702.62 L374.66,704.54 L376.57,706.59 L378.47,708.78 L380.38,711.12 L382.28,713.61 L384.19,716.26 L386.09,719.07 L387.99,722.04 L389.90,725.19 L391.80,728.50 L393.71,732.00 L395.61,735.66 L397.52,739.51 L399.42,743.53 L401.33,747.71 L403.23,752.06 L405.13,756.58 L407.04,761.24 L408.94,766.04 L410.85,770.98 L412.75,776.03 L414.66,781.18 L416.56,786.42 L418.47,791.73 L420.37,797.10 L422.27,802.49 L424.18,807.91 L426.08,813.31 L427.99,818.70 L429.89,824.04 L431.80,829.32 L433.70,834.53 L435.60,839.64 L437.51,844.64 L439.41,849.51 L441.32,854.26 L443.22,858.85 L445.13,863.29 L447.03,867.57 L448.94,871.69 L450.84,875.63 L452.74,879.39 L454.65,882.98 L456.55,886.40 L458.46,889.64 L460.36,892.71 L462.27,895.61 L464.17,898.34 L466.08,900.92 L467.98,903.34 L469.88,905.61 L471.79,907.74 L473.69,909.74 L475.60,911.60 L477.50,913.34 L479.41,914.96 L481.31,916.47 L483.21,917.87 L485.12,919.18 L487.02,920.39 L488.93,921.52 L490.83,922.56 L492.74,923.53 L494.64,924.42 L496.55,925.25 L498.45,926.02 L500.35,926.73 L502.26,927.38 L504.16,927.99 L506.07,928.55 L507.97,929.06 L509.88,929.54 L511.78,929.98 L513.69,930.38 L515.59,930.76 L517.49,931.10 L519.40,931.42 L521.30,931.71 L523.21,931.98 L525.11,932.23 L527.02,932.46 L528.92,932.67 L530.82,932.86 L532.73,933.04 L534.63,933.20 L536.54,933.35 L538.44,933.49 L540.35,933.62 L542.25,933.74 L544.16,933.84 L546.06,933.94 L547.96,934.04 L549.87,934.12 L551.77,934.20 L553.68,934.27 L555.58,934.33 L557.49,934.39 L559.39,934.45 L561.30,934.50 L563.20,934.55 L565.10,934.59 L567.01,934.63 L568.91,934.67 L570.82,934.70 L572.72,934.73 L574.63,934.76 L576.53,934.78 L578.43,934.81 L580.34,934.83 L582.24,934.85 L584.15,934.87 L586.05,934.89 L587.96,934.90 L589.86,934.92 L591.77,934.93 L593.67,934.94 L595.57,934.95 L597.48,934.96 L599.38,934.97 L601.29,934.98 L603.19,934.99 L605.10,935.00 L607.00,935.00 L608.91,935.01 L610.81,935.01 L612.71,935.02 L614.62,935.02 L616.52,935.03 L618.43,935.03 L620.33,935.04 L622.24,935.04 L624.14,935.04 L626.04,935.05 L627.95,935.05 L629.85,935.05 L631.76,935.05 L633.66,935.06 L635.57,935.06 L637.47,935.06 L639.38,935.06 L641.28,935.06" fill="none" stroke="#000" stroke-width="2.8"/>
<path d="M260.40,745.48 L262.30,745.48 L264.21,745.49 L266.11,745.49 L268.02,745.49 L269.92,745.50 L271.83,745.50 L273.73,745.51 L275.64,745.52 L277.54,745.52 L279.44,745.53 L281.35,745.54 L283.25,745.55 L285.16,745.56 L287.06,745.57 L288.97,745.58 L290.87,745.60 L292.77,745.61 L294.68,745.63 L296.58,745.65 L298.49,745.67 L300.39,745.70 L302.30,745.72 L304.20,745.75 L306.11,745.78 L308.01,745.82 L309.91,745.86 L311.82,745.90 L313.72,745.95 L315.63,746.00 L317.53,746.06 L319.44,746.13 L321.34,746.20 L323.25,746.28 L325.15,746.36 L327.05,746.46 L328.96,746.57 L330.86,746.68 L332.77,746.81 L334.67,746.96 L336.58,747.12 L338.48,747.29 L340.38,747.48 L342.29,747.70 L344.19,747.93 L346.10,748.19 L348.00,748.48 L349.91,748.79 L351.81,749.14 L353.72,749.52 L355.62,749.94 L357.52,750.41 L359.43,750.92 L361.33,751.48 L363.24,752.09 L365.14,752.77 L367.05,753.52 L368.95,754.33 L370.86,755.22 L372.76,756.20 L374.66,757.27 L376.57,758.44 L378.47,759.71 L380.38,761.10 L382.28,762.61 L384.19,764.25 L386.09,766.02 L387.99,767.95 L389.90,770.02 L391.80,772.26 L393.71,774.67 L395.61,777.25 L397.52,780.01 L399.42,782.96 L401.33,786.09 L403.23,789.40 L405.13,792.90 L407.04,796.58 L408.94,800.44 L410.85,804.47 L412.75,808.66 L414.66,812.99 L416.56,817.45 L418.47,822.02 L420.37,826.69 L422.27,831.42 L424.18,836.21 L426.08,841.02 L427.99,845.82 L429.89,850.61 L431.80,855.35 L433.70,860.01 L435.60,864.58 L437.51,869.04 L439.41,873.38 L441.32,877.56 L443.22,881.59 L445.13,885.45 L447.03,889.13 L448.94,892.63 L450.84,895.95 L452.74,899.08 L454.65,902.02 L456.55,904.78 L458.46,907.36 L460.36,909.77 L462.27,912.01 L464.17,914.09 L466.08,916.01 L467.98,917.79 L469.88,919.43 L471.79,920.94 L473.69,922.32 L475.60,923.60 L477.50,924.76 L479.41,925.83 L481.31,926.81 L483.21,927.70 L485.12,928.52 L487.02,929.26 L488.93,929.94 L490.83,930.55 L492.74,931.12 L494.64,931.63 L496.55,932.09 L498.45,932.51 L500.35,932.89 L502.26,933.24 L504.16,933.56 L506.07,933.84 L507.97,934.10 L509.88,934.34 L511.78,934.55 L513.69,934.74 L515.59,934.92 L517.49,935.08 L519.40,935.22 L521.30,935.35 L523.21,935.47 L525.11,935.57 L527.02,935.67 L528.92,935.76 L530.82,935.84 L532.73,935.91 L534.63,935.97 L536.54,936.03 L538.44,936.08 L540.35,936.13 L542.25,936.17 L544.16,936.21 L546.06,936.25 L547.96,936.28 L549.87,936.31 L551.77,936.34 L553.68,936.36 L555.58,936.38 L557.49,936.40 L559.39,936.42 L561.30,936.43 L563.20,936.45 L565.10,936.46 L567.01,936.47 L568.91,936.48 L570.82,936.49 L572.72,936.50 L574.63,936.51 L576.53,936.52 L578.43,936.52 L580.34,936.53 L582.24,936.53 L584.15,936.54 L586.05,936.54 L587.96,936.55 L589.86,936.55 L591.77,936.55 L593.67,936.56 L595.57,936.56 L597.48,936.56 L599.38,936.56 L601.29,936.57 L603.19,936.57 L605.10,936.57 L607.00,936.57 L608.91,936.57 L610.81,936.57 L612.71,936.57 L614.62,936.58 L616.52,936.58 L618.43,936.58 L620.33,936.58 L622.24,936.58 L624.14,936.58 L626.04,936.58 L627.95,936.58 L629.85,936.58 L631.76,936.58 L633.66,936.58 L635.57,936.58 L637.47,936.58 L639.38,936.58 L641.28,936.58" fill="none" stroke="#000" stroke-width="2.8"/>
<path d="M260.40,821.98 L262.30,821.98 L264.21,821.99 L266.11,822.00 L268.02,822.01 L269.92,822.02 L271.83,822.03 L273.73,822.04 L275.64,822.05 L277.54,822.06 L279.44,822.08 L281.35,822.09 L283.25,822.11 L285.16,822.13 L287.06,822.15 L288.97,822.17 L290.87,822.20 L292.77,822.23 L294.68,822.25 L296.58,822.29 L298.49,822.32 L300.39,822.36 L302.30,822.40 L304.20,822.45 L306.11,822.49 L308.01,822.55 L309.91,822.61 L311.82,822.67 L313.72,822.74 L315.63,822.81 L317.53,822.90 L319.44,822.99 L321.34,823.08 L323.25,823.19 L325.15,823.30 L327.05,823.43 L328.96,823.57 L330.86,823.72 L332.77,823.88 L334.67,824.05 L336.58,824.25 L338.48,824.45 L340.38,824.68 L342.29,824.93 L344.19,825.19 L346.10,825.48 L348.00,825.80 L349.91,826.14 L351.81,826.51 L353.72,826.91 L355.62,827.34 L357.52,827.81 L359.43,828.32 L361.33,828.87 L363.24,829.46 L365.14,830.10 L367.05,830.79 L368.95,831.53 L370.86,832.33 L372.76,833.18 L374.66,834.10 L376.57,835.08 L378.47,836.13 L380.38,837.26 L382.28,838.45 L384.19,839.73 L386.09,841.08 L387.99,842.51 L389.90,844.03 L391.80,845.62 L393.71,847.31 L395.61,849.07 L397.52,850.92 L399.42,852.86 L401.33,854.87 L403.23,856.96 L405.13,859.12 L407.04,861.35 L408.94,863.64 L410.85,865.99 L412.75,868.39 L414.66,870.82 L416.56,873.29 L418.47,875.79 L420.37,878.30 L422.27,880.81 L424.18,883.32 L426.08,885.82 L427.99,888.29 L429.89,890.74 L431.80,893.14 L433.70,895.49 L435.60,897.79 L437.51,900.03 L439.41,902.20 L441.32,904.29 L443.22,906.31 L445.13,908.25 L447.03,910.11 L448.94,911.89 L450.84,913.58 L452.74,915.19 L454.65,916.72 L456.55,918.16 L458.46,919.52 L460.36,920.80 L462.27,922.00 L464.17,923.13 L466.08,924.19 L467.98,925.18 L469.88,926.11 L471.79,926.97 L473.69,927.77 L475.60,928.52 L477.50,929.21 L479.41,929.86 L481.31,930.46 L483.21,931.01 L485.12,931.52 L487.02,931.99 L488.93,932.43 L490.83,932.84 L492.74,933.21 L494.64,933.55 L496.55,933.87 L498.45,934.16 L500.35,934.43 L502.26,934.68 L504.16,934.91 L506.07,935.12 L507.97,935.32 L509.88,935.49 L511.78,935.66 L513.69,935.81 L515.59,935.95 L517.49,936.07 L519.40,936.19 L521.30,936.30 L523.21,936.39 L525.11,936.48 L527.02,936.57 L528.92,936.64 L530.82,936.71 L532.73,936.78 L534.63,936.84 L536.54,936.89 L538.44,936.94 L540.35,936.99 L542.25,937.03 L544.16,937.07 L546.06,937.10 L547.96,937.13 L549.87,937.16 L551.77,937.19 L553.68,937.21 L555.58,937.24 L557.49,937.26 L559.39,937.28 L561.30,937.29 L563.20,937.31 L565.10,937.32 L567.01,937.34 L568.91,937.35 L570.82,937.36 L572.72,937.37 L574.63,937.38 L576.53,937.39 L578.43,937.40 L580.34,937.41 L582.24,937.41 L584.15,937.42 L586.05,937.42 L587.96,937.43 L589.86,937.43 L591.77,937.44 L593.67,937.44 L595.57,937.45 L597.48,937.45 L599.38,937.45 L601.29,937.46 L603.19,937.46 L605.10,937.46 L607.00,937.46 L608.91,937.47 L610.81,937.47 L612.71,937.47 L614.62,937.47 L616.52,937.47 L618.43,937.47 L620.33,937.47 L622.24,937.48 L624.14,937.48 L626.04,937.48 L627.95,937.48 L629.85,937.48 L631.76,937.48 L633.66,937.48 L635.57,937.48 L637.47,937.48 L639.38,937.48 L641.28,937.48" fill="none" stroke="#000" stroke-width="2.8"/>
<path d="M260.40,876.22 L262.30,876.25 L264.21,876.29 L266.11,876.33 L268.02,876.37 L269.92,876.42 L271.83,876.47 L273.73,876.52 L275.64,876.58 L277.54,876.65 L279.44,876.71 L281.35,876.79 L283.25,876.86 L285.16,876.95 L287.06,877.04 L288.97,877.14 L290.87,877.24 L292.77,877.35 L294.68,877.47 L296.58,877.60 L298.49,877.74 L300.39,877.89 L302.30,878.05 L304.20,878.23 L306.11,878.41 L308.01,878.61 L309.91,878.82 L311.82,879.05 L313.72,879.30 L315.63,879.56 L317.53,879.84 L319.44,880.14 L321.34,880.45 L323.25,880.79 L325.15,881.16 L327.05,881.54 L328.96,881.95 L330.86,882.39 L332.77,882.85 L334.67,883.34 L336.58,883.86 L338.48,884.41 L340.38,884.99 L342.29,885.61 L344.19,886.25 L346.10,886.93 L348.00,887.64 L349.91,888.39 L351.81,889.17 L353.72,889.98 L355.62,890.83 L357.52,891.71 L359.43,892.63 L361.33,893.57 L363.24,894.55 L365.14,895.56 L367.05,896.59 L368.95,897.65 L370.86,898.73 L372.76,899.83 L374.66,900.95 L376.57,902.09 L378.47,903.24 L380.38,904.39 L382.28,905.56 L384.19,906.72 L386.09,907.89 L387.99,909.04 L389.90,910.20 L391.80,911.34 L393.71,912.46 L395.61,913.57 L397.52,914.66 L399.42,915.73 L401.33,916.77 L403.23,917.78 L405.13,918.77 L407.04,919.73 L408.94,920.65 L410.85,921.55 L412.75,922.41 L414.66,923.23 L416.56,924.02 L418.47,924.78 L420.37,925.50 L422.27,926.19 L424.18,926.85 L426.08,927.47 L427.99,928.06 L429.89,928.62 L431.80,929.15 L433.70,929.65 L435.60,930.13 L437.51,930.57 L439.41,930.99 L441.32,931.38 L443.22,931.75 L445.13,932.10 L447.03,932.43 L448.94,932.73 L450.84,933.02 L452.74,933.28 L454.65,933.53 L456.55,933.77 L458.46,933.99 L460.36,934.19 L462.27,934.38 L464.17,934.56 L466.08,934.72 L467.98,934.87 L469.88,935.02 L471.79,935.15 L473.69,935.28 L475.60,935.39 L477.50,935.50 L479.41,935.60 L481.31,935.69 L483.21,935.78 L485.12,935.86 L487.02,935.93 L488.93,936.00 L490.83,936.06 L492.74,936.12 L494.64,936.18 L496.55,936.23 L498.45,936.28 L500.35,936.32 L502.26,936.36 L504.16,936.40 L506.07,936.44 L507.97,936.47 L509.88,936.50 L511.78,936.53 L513.69,936.55 L515.59,936.58 L517.49,936.60 L519.40,936.62 L521.30,936.64 L523.21,936.66 L525.11,936.67 L527.02,936.69 L528.92,936.70 L530.82,936.72 L532.73,936.73 L534.63,936.74 L536.54,936.75 L538.44,936.76 L540.35,936.77 L542.25,936.78 L544.16,936.79 L546.06,936.79 L547.96,936.80 L549.87,936.81 L551.77,936.81 L553.68,936.82 L555.58,936.82 L557.49,936.83 L559.39,936.83 L561.30,936.84 L563.20,936.84 L565.10,936.84 L567.01,936.85 L568.91,936.85 L570.82,936.85 L572.72,936.85 L574.63,936.86 L576.53,936.86 L578.43,936.86 L580.34,936.86 L582.24,936.86 L584.15,936.87 L586.05,936.87 L587.96,936.87 L589.86,936.87 L591.77,936.87 L593.67,936.87 L595.57,936.87 L597.48,936.87 L599.38,936.87 L601.29,936.88 L603.19,936.88 L605.10,936.88 L607.00,936.88 L608.91,936.88 L610.81,936.88 L612.71,936.88 L614.62,936.88 L616.52,936.88 L618.43,936.88 L620.33,936.88 L622.24,936.88 L624.14,936.88 L626.04,936.88 L627.95,936.88 L629.85,936.88 L631.76,936.88 L633.66,936.88 L635.57,936.88 L637.47,936.88 L639.38,936.88 L641.28,936.88" fill="none" stroke="#000" stroke-width="2.8"/>
<rect x="253.65" y="689.35" width="13.50" height="13.50" rx="0.9" fill="none" stroke="#000" stroke-width="3" stroke-linejoin="round"/>
<line x1="323.9" y1="650.3" x2="323.9" y2="671.0" stroke="#000" stroke-width="3"/>
<line x1="316.9" y1="650.3" x2="330.9" y2="650.3" stroke="#000" stroke-width="3"/>
<line x1="316.9" y1="671.0" x2="330.9" y2="671.0" stroke="#000" stroke-width="3"/>
<rect x="317.13" y="653.95" width="13.50" height="13.50" rx="0.9" fill="none" stroke="#000" stroke-width="3" stroke-linejoin="round"/>
<line x1="387.4" y1="718.2" x2="387.4" y2="735.0" stroke="#000" stroke-width="3"/>
<line x1="380.4" y1="718.2" x2="394.4" y2="718.2" stroke="#000" stroke-width="3"/>
<line x1="380.4" y1="735.0" x2="394.4" y2="735.0" stroke="#000" stroke-width="3"/>
<rect x="380.61" y="721.25" width="13.50" height="13.50" rx="0.9" fill="none" stroke="#000" stroke-width="3" stroke-linejoin="round"/>
<rect x="444.09" y="867.95" width="13.50" height="13.50" rx="0.9" fill="none" stroke="#000" stroke-width="3" stroke-linejoin="round"/>
<rect x="507.57" y="927.25" width="13.50" height="13.50" rx="0.9" fill="none" stroke="#000" stroke-width="3" stroke-linejoin="round"/>
<rect x="571.05" y="920.25" width="13.50" height="13.50" rx="0.9" fill="none" stroke="#000" stroke-width="3" stroke-linejoin="round"/>
<rect x="634.53" y="931.25" width="13.50" height="13.50" rx="0.9" fill="none" stroke="#000" stroke-width="3" stroke-linejoin="round"/>
<path d="M260.40,737.70 L268.40,745.70 L260.40,753.70 L252.40,745.70Z" fill="#000"/>
<line x1="323.9" y1="732.0" x2="323.9" y2="759.6" stroke="#000" stroke-width="3"/>
<line x1="316.9" y1="732.0" x2="330.9" y2="732.0" stroke="#000" stroke-width="3"/>
<line x1="316.9" y1="759.6" x2="330.9" y2="759.6" stroke="#000" stroke-width="3"/>
<path d="M323.88,738.30 L331.88,746.30 L323.88,754.30 L315.88,746.30Z" fill="#000"/>
<line x1="387.4" y1="747.7" x2="387.4" y2="787.6" stroke="#000" stroke-width="3"/>
<line x1="380.4" y1="747.7" x2="394.4" y2="747.7" stroke="#000" stroke-width="3"/>
<line x1="380.4" y1="787.6" x2="394.4" y2="787.6" stroke="#000" stroke-width="3"/>
<path d="M387.36,759.50 L395.36,767.50 L387.36,775.50 L379.36,767.50Z" fill="#000"/>
<path d="M450.84,888.20 L458.84,896.20 L450.84,904.20 L442.84,896.20Z" fill="#000"/>
<path d="M514.32,928.00 L522.32,936.00 L514.32,944.00 L506.32,936.00Z" fill="#000"/>
<path d="M577.80,927.00 L585.80,935.00 L577.80,943.00 L569.80,935.00Z" fill="#000"/>
<path d="M641.28,930.00 L649.28,938.00 L641.28,946.00 L633.28,938.00Z" fill="#000"/>
<path d="M260.40,810.12 L268.40,826.12 L252.40,826.12Z" fill="#000"/>
<line x1="323.9" y1="818.6" x2="323.9" y2="832.0" stroke="#000" stroke-width="3"/>
<line x1="316.9" y1="818.6" x2="330.9" y2="818.6" stroke="#000" stroke-width="3"/>
<line x1="316.9" y1="832.0" x2="330.9" y2="832.0" stroke="#000" stroke-width="3"/>
<path d="M323.88,820.52 L331.88,836.52 L315.88,836.52Z" fill="#000"/>
<path d="M387.36,833.52 L395.36,849.52 L379.36,849.52Z" fill="#000"/>
<path d="M450.84,906.02 L458.84,922.02 L442.84,922.02Z" fill="#000"/>
<path d="M514.32,927.52 L522.32,943.52 L506.32,943.52Z" fill="#000"/>
<path d="M577.80,929.52 L585.80,945.52 L569.80,945.52Z" fill="#000"/>
<path d="M641.28,929.52 L649.28,945.52 L633.28,945.52Z" fill="#000"/>
<circle cx="260.4" cy="876.2" r="7.50" fill="#000"/>
<line x1="323.9" y1="865.8" x2="323.9" y2="896.8" stroke="#000" stroke-width="3"/>
<line x1="316.9" y1="865.8" x2="330.9" y2="865.8" stroke="#000" stroke-width="3"/>
<line x1="316.9" y1="896.8" x2="330.9" y2="896.8" stroke="#000" stroke-width="3"/>
<circle cx="323.9" cy="880.6" r="7.50" fill="#000"/>
<circle cx="387.4" cy="908.6" r="7.50" fill="#000"/>
<circle cx="450.8" cy="932.8" r="7.50" fill="#000"/>
<circle cx="514.3" cy="936.0" r="7.50" fill="#000"/>
<circle cx="577.8" cy="936.0" r="7.50" fill="#000"/>
<circle cx="641.3" cy="938.0" r="7.50" fill="#000"/>
<text x="520.7" y="654.9" font-size="25.5" font-weight="normal" text-anchor="start" fill="#000" textLength="146.2" lengthAdjust="spacingAndGlyphs" >Tocilizumab</text>
<line x1="495.5" y1="683.8" x2="530" y2="683.8" stroke="#000" stroke-width="3"/>
<circle cx="512.9" cy="683.8" r="6.75" fill="#000"/>
<text x="538.4" y="694.6" font-size="26" font-weight="normal" text-anchor="start" fill="#000" textLength="103.6" lengthAdjust="spacingAndGlyphs" >10 &#181;g/ml</text>
<line x1="495.5" y1="722.5" x2="530" y2="722.5" stroke="#000" stroke-width="3"/>
<path d="M512.90,716.05 L520.40,731.05 L505.40,731.05Z" fill="#000"/>
<text x="538.4" y="733.3" font-size="26" font-weight="normal" text-anchor="start" fill="#000" textLength="126.9" lengthAdjust="spacingAndGlyphs" >1.25 &#181;g/ml</text>
<line x1="495.5" y1="761.0" x2="530" y2="761.0" stroke="#000" stroke-width="3"/>
<path d="M512.90,753.50 L520.40,761.00 L512.90,768.50 L505.40,761.00Z" fill="#000"/>
<text x="537.6" y="773.0" font-size="26" font-weight="normal" text-anchor="start" fill="#000" textLength="143.4" lengthAdjust="spacingAndGlyphs" >0.625 &#181;g/ml</text>
<line x1="495.5" y1="799.4" x2="530" y2="799.4" stroke="#000" stroke-width="3"/>
<rect x="506.90" y="793.40" width="12.00" height="12.00" rx="0.9" fill="none" stroke="#000" stroke-width="3" stroke-linejoin="round"/>
<text x="537.6" y="813.6" font-size="26" font-weight="normal" text-anchor="start" fill="#000" textLength="143.4" lengthAdjust="spacingAndGlyphs" >0.156 &#181;g/ml</text>
</svg>
</body></html>
